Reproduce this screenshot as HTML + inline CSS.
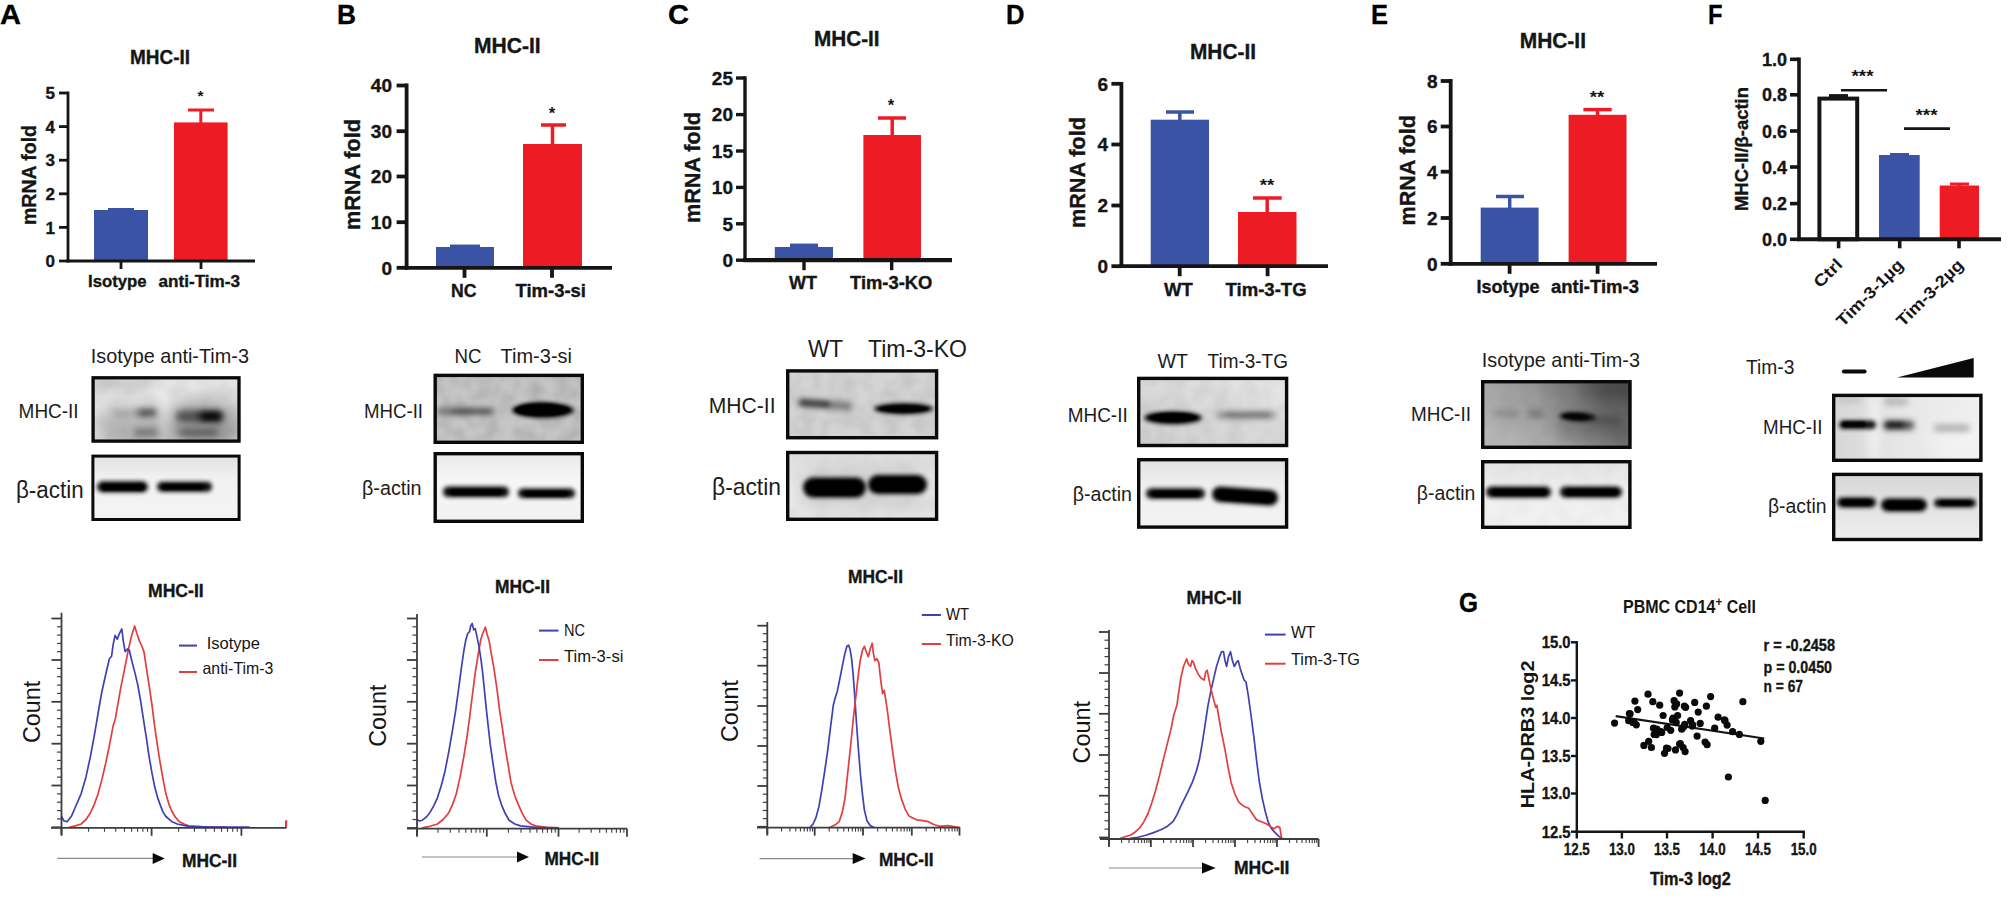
<!DOCTYPE html>
<html><head><meta charset="utf-8"><title>Figure</title>
<style>
html,body{margin:0;padding:0;background:#fff;}
body{width:2008px;height:899px;overflow:hidden;}
svg{display:block;font-family:"Liberation Sans",sans-serif;}
</style></head><body>
<svg width="2008" height="899" viewBox="0 0 2008 899">
<defs>
<filter id="b1" x="-20%" y="-80%" width="140%" height="260%"><feGaussianBlur stdDeviation="1.3"/></filter>
<filter id="b2" x="-20%" y="-80%" width="140%" height="260%"><feGaussianBlur stdDeviation="2"/></filter>
<filter id="b3" x="-30%" y="-100%" width="160%" height="300%"><feGaussianBlur stdDeviation="3.2"/></filter>
<filter id="b5" x="-40%" y="-150%" width="180%" height="400%"><feGaussianBlur stdDeviation="5"/></filter>
<filter id="b9" x="-60%" y="-200%" width="220%" height="500%"><feGaussianBlur stdDeviation="9"/></filter>
<filter id="noise" x="0" y="0" width="100%" height="100%">
  <feTurbulence type="fractalNoise" baseFrequency="0.07" numOctaves="2" seed="4" result="n"/>
  <feColorMatrix in="n" type="matrix" values="0 0 0 0 0  0 0 0 0 0  0 0 0 0 0  1.6 0 0 0 -0.55"/>
  <feGaussianBlur stdDeviation="1.8"/>
</filter>
<linearGradient id="gA1" x1="0" y1="0" x2="1" y2="1"><stop offset="0" stop-color="#dcdcdc"/><stop offset="0.45" stop-color="#e6e6e6"/><stop offset="1" stop-color="#cfcfcf"/></linearGradient>
<linearGradient id="gA2" x1="0" y1="0" x2="0" y2="1"><stop offset="0" stop-color="#e0e0e0"/><stop offset="0.35" stop-color="#f1f1f1"/><stop offset="1" stop-color="#f4f4f4"/></linearGradient>
<linearGradient id="gB2" x1="0" y1="0" x2="0" y2="1"><stop offset="0" stop-color="#e9e9e9"/><stop offset="0.4" stop-color="#f6f6f6"/><stop offset="1" stop-color="#f1f1f1"/></linearGradient>
<linearGradient id="gC2" x1="0" y1="0" x2="0" y2="1"><stop offset="0" stop-color="#dedede"/><stop offset="0.5" stop-color="#ebebeb"/><stop offset="1" stop-color="#e4e4e4"/></linearGradient>
<linearGradient id="gD1" x1="0" y1="1" x2="1" y2="0"><stop offset="0" stop-color="#cfcfcf"/><stop offset="0.6" stop-color="#dcdcdc"/><stop offset="1" stop-color="#e8e8e8"/></linearGradient>
<linearGradient id="gD2" x1="0" y1="0" x2="0" y2="1"><stop offset="0" stop-color="#e2e2e2"/><stop offset="0.4" stop-color="#efefef"/><stop offset="1" stop-color="#f3f3f3"/></linearGradient>
<linearGradient id="gE1" x1="0" y1="0.65" x2="1" y2="0.3"><stop offset="0" stop-color="#b6b6b6"/><stop offset="0.45" stop-color="#999999"/><stop offset="0.75" stop-color="#727272"/><stop offset="1" stop-color="#5e5e5e"/></linearGradient>
<linearGradient id="gE2" x1="0" y1="0" x2="0" y2="1"><stop offset="0" stop-color="#e2e2e2"/><stop offset="0.4" stop-color="#eeeeee"/><stop offset="1" stop-color="#f2f2f2"/></linearGradient>
<linearGradient id="gF1" x1="0" y1="0" x2="1" y2="0"><stop offset="0" stop-color="#d6d6d6"/><stop offset="0.45" stop-color="#e6e6e6"/><stop offset="1" stop-color="#f0f0f0"/></linearGradient>
<linearGradient id="gF2" x1="0" y1="0" x2="0" y2="1"><stop offset="0" stop-color="#d6d6d6"/><stop offset="0.55" stop-color="#e4e4e4"/><stop offset="1" stop-color="#efefef"/></linearGradient>
</defs>

<rect x="0" y="0" width="2008" height="899" fill="#ffffff"/>
<g id="charts">
<text x="0.0" y="24.0" font-size="28" font-weight="bold" textLength="21.0" lengthAdjust="spacingAndGlyphs" fill="#000"  stroke="#000" stroke-width="0.35">A</text>
<text x="337.0" y="24.0" font-size="28" font-weight="bold" textLength="19.0" lengthAdjust="spacingAndGlyphs" fill="#000"  stroke="#000" stroke-width="0.35">B</text>
<text x="668.0" y="24.0" font-size="28" font-weight="bold" textLength="21.0" lengthAdjust="spacingAndGlyphs" fill="#000"  stroke="#000" stroke-width="0.35">C</text>
<text x="1006.0" y="24.0" font-size="28" font-weight="bold" textLength="18.5" lengthAdjust="spacingAndGlyphs" fill="#000"  stroke="#000" stroke-width="0.35">D</text>
<text x="1371.0" y="24.0" font-size="28" font-weight="bold" textLength="17.0" lengthAdjust="spacingAndGlyphs" fill="#000"  stroke="#000" stroke-width="0.35">E</text>
<text x="1708.0" y="24.0" font-size="28" font-weight="bold" textLength="14.5" lengthAdjust="spacingAndGlyphs" fill="#000"  stroke="#000" stroke-width="0.35">F</text>
<text x="1459.0" y="611.5" font-size="28" font-weight="bold" textLength="19.0" lengthAdjust="spacingAndGlyphs" fill="#000"  stroke="#000" stroke-width="0.35">G</text>
<text x="130.0" y="64.0" font-size="20" font-weight="bold" textLength="60.0" lengthAdjust="spacingAndGlyphs" fill="#151515"  stroke="#151515" stroke-width="0.35">MHC-II</text>
<line x1="121.0" y1="209.5" x2="121.0" y2="212.0" stroke="#3a53a4" stroke-width="3" stroke-linecap="butt"/>
<line x1="108.0" y1="209.5" x2="134.0" y2="209.5" stroke="#3a53a4" stroke-width="3" stroke-linecap="butt"/>
<rect x="94.0" y="210.0" width="54.0" height="51.0" fill="#3a53a4" />
<line x1="200.8" y1="110.0" x2="200.8" y2="124.4" stroke="#ed1c24" stroke-width="3" stroke-linecap="butt"/>
<line x1="188.0" y1="110.0" x2="214.0" y2="110.0" stroke="#ed1c24" stroke-width="3" stroke-linecap="butt"/>
<rect x="174.0" y="122.4" width="53.6" height="138.6" fill="#ed1c24" />
<line x1="68.0" y1="91.6" x2="68.0" y2="262.4" stroke="#151515" stroke-width="2.8" stroke-linecap="butt"/>
<line x1="66.6" y1="261.0" x2="255.0" y2="261.0" stroke="#151515" stroke-width="2.8" stroke-linecap="butt"/>
<line x1="59.0" y1="93.0" x2="68.0" y2="93.0" stroke="#151515" stroke-width="2.8" stroke-linecap="butt"/>
<text transform="translate(55.0,99.1) scale(1.0,1)" text-anchor="end" font-size="17" font-weight="bold" fill="#151515" stroke="#151515" stroke-width="0.35">5</text>
<line x1="59.0" y1="126.6" x2="68.0" y2="126.6" stroke="#151515" stroke-width="2.8" stroke-linecap="butt"/>
<text transform="translate(55.0,132.7) scale(1.0,1)" text-anchor="end" font-size="17" font-weight="bold" fill="#151515" stroke="#151515" stroke-width="0.35">4</text>
<line x1="59.0" y1="160.2" x2="68.0" y2="160.2" stroke="#151515" stroke-width="2.8" stroke-linecap="butt"/>
<text transform="translate(55.0,166.3) scale(1.0,1)" text-anchor="end" font-size="17" font-weight="bold" fill="#151515" stroke="#151515" stroke-width="0.35">3</text>
<line x1="59.0" y1="193.8" x2="68.0" y2="193.8" stroke="#151515" stroke-width="2.8" stroke-linecap="butt"/>
<text transform="translate(55.0,199.9) scale(1.0,1)" text-anchor="end" font-size="17" font-weight="bold" fill="#151515" stroke="#151515" stroke-width="0.35">2</text>
<line x1="59.0" y1="227.4" x2="68.0" y2="227.4" stroke="#151515" stroke-width="2.8" stroke-linecap="butt"/>
<text transform="translate(55.0,233.5) scale(1.0,1)" text-anchor="end" font-size="17" font-weight="bold" fill="#151515" stroke="#151515" stroke-width="0.35">1</text>
<line x1="59.0" y1="261.0" x2="68.0" y2="261.0" stroke="#151515" stroke-width="2.8" stroke-linecap="butt"/>
<text transform="translate(55.0,267.1) scale(1.0,1)" text-anchor="end" font-size="17" font-weight="bold" fill="#151515" stroke="#151515" stroke-width="0.35">0</text>
<line x1="121.0" y1="261.0" x2="121.0" y2="269.0" stroke="#151515" stroke-width="2.8" stroke-linecap="butt"/>
<line x1="201.0" y1="261.0" x2="201.0" y2="269.0" stroke="#151515" stroke-width="2.8" stroke-linecap="butt"/>
<text x="197.5" y="101.1" font-size="14" font-weight="bold" fill="#151515" textLength="6.0" lengthAdjust="spacingAndGlyphs">*</text>
<text x="88.0" y="286.5" font-size="16" font-weight="bold" textLength="58.5" lengthAdjust="spacingAndGlyphs" fill="#151515"  stroke="#151515" stroke-width="0.35">Isotype</text>
<text x="158.6" y="286.5" font-size="16" font-weight="bold" textLength="81.4" lengthAdjust="spacingAndGlyphs" fill="#151515"  stroke="#151515" stroke-width="0.35">anti-Tim-3</text>
<text transform="translate(35.5,225.0) rotate(-90)" font-size="20.5" font-weight="bold" textLength="100.0" lengthAdjust="spacingAndGlyphs" fill="#151515" stroke="#151515" stroke-width="0.35">mRNA fold</text>
<text x="474.0" y="53.4" font-size="21.5" font-weight="bold" textLength="66.7" lengthAdjust="spacingAndGlyphs" fill="#151515"  stroke="#151515" stroke-width="0.35">MHC-II</text>
<line x1="465.0" y1="246.3" x2="465.0" y2="249.0" stroke="#3a53a4" stroke-width="3.496" stroke-linecap="butt"/>
<line x1="450.0" y1="246.3" x2="480.0" y2="246.3" stroke="#3a53a4" stroke-width="3.496" stroke-linecap="butt"/>
<rect x="436.0" y="247.0" width="58.0" height="20.8" fill="#3a53a4" />
<line x1="552.5" y1="125.0" x2="552.5" y2="146.0" stroke="#ed1c24" stroke-width="3.496" stroke-linecap="butt"/>
<line x1="541.0" y1="125.0" x2="566.0" y2="125.0" stroke="#ed1c24" stroke-width="3.496" stroke-linecap="butt"/>
<rect x="523.0" y="144.0" width="59.0" height="123.8" fill="#ed1c24" />
<line x1="406.6" y1="83.6" x2="406.6" y2="269.7" stroke="#151515" stroke-width="3.8" stroke-linecap="butt"/>
<line x1="404.7" y1="267.8" x2="612.0" y2="267.8" stroke="#151515" stroke-width="3.8" stroke-linecap="butt"/>
<line x1="396.6" y1="85.5" x2="406.6" y2="85.5" stroke="#151515" stroke-width="3.8" stroke-linecap="butt"/>
<text transform="translate(392.0,92.3) scale(1.0,1)" text-anchor="end" font-size="19" font-weight="bold" fill="#151515" stroke="#151515" stroke-width="0.35">40</text>
<line x1="396.6" y1="131.2" x2="406.6" y2="131.2" stroke="#151515" stroke-width="3.8" stroke-linecap="butt"/>
<text transform="translate(392.0,138.0) scale(1.0,1)" text-anchor="end" font-size="19" font-weight="bold" fill="#151515" stroke="#151515" stroke-width="0.35">30</text>
<line x1="396.6" y1="176.5" x2="406.6" y2="176.5" stroke="#151515" stroke-width="3.8" stroke-linecap="butt"/>
<text transform="translate(392.0,183.3) scale(1.0,1)" text-anchor="end" font-size="19" font-weight="bold" fill="#151515" stroke="#151515" stroke-width="0.35">20</text>
<line x1="396.6" y1="222.2" x2="406.6" y2="222.2" stroke="#151515" stroke-width="3.8" stroke-linecap="butt"/>
<text transform="translate(392.0,229.0) scale(1.0,1)" text-anchor="end" font-size="19" font-weight="bold" fill="#151515" stroke="#151515" stroke-width="0.35">10</text>
<line x1="396.6" y1="267.8" x2="406.6" y2="267.8" stroke="#151515" stroke-width="3.8" stroke-linecap="butt"/>
<text transform="translate(392.0,274.6) scale(1.0,1)" text-anchor="end" font-size="19" font-weight="bold" fill="#151515" stroke="#151515" stroke-width="0.35">0</text>
<line x1="464.5" y1="267.8" x2="464.5" y2="277.8" stroke="#151515" stroke-width="3.8" stroke-linecap="butt"/>
<line x1="552.0" y1="267.8" x2="552.0" y2="277.8" stroke="#151515" stroke-width="3.8" stroke-linecap="butt"/>
<text x="548.8" y="118.5" font-size="16" font-weight="bold" fill="#151515" textLength="6.5" lengthAdjust="spacingAndGlyphs">*</text>
<text x="451.0" y="296.5" font-size="18" font-weight="bold" textLength="25.5" lengthAdjust="spacingAndGlyphs" fill="#151515"  stroke="#151515" stroke-width="0.35">NC</text>
<text x="515.5" y="296.5" font-size="18" font-weight="bold" textLength="70.5" lengthAdjust="spacingAndGlyphs" fill="#151515"  stroke="#151515" stroke-width="0.35">Tim-3-si</text>
<text transform="translate(359.5,230.0) rotate(-90)" font-size="22" font-weight="bold" textLength="111.0" lengthAdjust="spacingAndGlyphs" fill="#151515" stroke="#151515" stroke-width="0.35">mRNA fold</text>
<text x="814.0" y="45.5" font-size="21.5" font-weight="bold" textLength="65.6" lengthAdjust="spacingAndGlyphs" fill="#151515"  stroke="#151515" stroke-width="0.35">MHC-II</text>
<line x1="803.9" y1="245.3" x2="803.9" y2="249.0" stroke="#3a53a4" stroke-width="3.5" stroke-linecap="butt"/>
<line x1="790.0" y1="245.3" x2="818.0" y2="245.3" stroke="#3a53a4" stroke-width="3.5" stroke-linecap="butt"/>
<rect x="774.8" y="247.0" width="58.2" height="13.2" fill="#3a53a4" />
<line x1="892.2" y1="118.0" x2="892.2" y2="137.0" stroke="#ed1c24" stroke-width="3.5" stroke-linecap="butt"/>
<line x1="878.0" y1="118.0" x2="906.0" y2="118.0" stroke="#ed1c24" stroke-width="3.5" stroke-linecap="butt"/>
<rect x="863.4" y="135.0" width="57.6" height="125.2" fill="#ed1c24" />
<line x1="745.0" y1="76.3" x2="745.0" y2="261.9" stroke="#151515" stroke-width="3.4" stroke-linecap="butt"/>
<line x1="743.3" y1="260.2" x2="952.0" y2="260.2" stroke="#151515" stroke-width="4.2" stroke-linecap="butt"/>
<line x1="736.0" y1="78.0" x2="745.0" y2="78.0" stroke="#151515" stroke-width="3.4" stroke-linecap="butt"/>
<text transform="translate(733.0,84.8) scale(1.0,1)" text-anchor="end" font-size="19" font-weight="bold" fill="#151515" stroke="#151515" stroke-width="0.35">25</text>
<line x1="736.0" y1="114.6" x2="745.0" y2="114.6" stroke="#151515" stroke-width="3.4" stroke-linecap="butt"/>
<text transform="translate(733.0,121.4) scale(1.0,1)" text-anchor="end" font-size="19" font-weight="bold" fill="#151515" stroke="#151515" stroke-width="0.35">20</text>
<line x1="736.0" y1="151.0" x2="745.0" y2="151.0" stroke="#151515" stroke-width="3.4" stroke-linecap="butt"/>
<text transform="translate(733.0,157.8) scale(1.0,1)" text-anchor="end" font-size="19" font-weight="bold" fill="#151515" stroke="#151515" stroke-width="0.35">15</text>
<line x1="736.0" y1="187.4" x2="745.0" y2="187.4" stroke="#151515" stroke-width="3.4" stroke-linecap="butt"/>
<text transform="translate(733.0,194.2) scale(1.0,1)" text-anchor="end" font-size="19" font-weight="bold" fill="#151515" stroke="#151515" stroke-width="0.35">10</text>
<line x1="736.0" y1="223.8" x2="745.0" y2="223.8" stroke="#151515" stroke-width="3.4" stroke-linecap="butt"/>
<text transform="translate(733.0,230.6) scale(1.0,1)" text-anchor="end" font-size="19" font-weight="bold" fill="#151515" stroke="#151515" stroke-width="0.35">5</text>
<line x1="736.0" y1="260.2" x2="745.0" y2="260.2" stroke="#151515" stroke-width="3.4" stroke-linecap="butt"/>
<text transform="translate(733.0,267.0) scale(1.0,1)" text-anchor="end" font-size="19" font-weight="bold" fill="#151515" stroke="#151515" stroke-width="0.35">0</text>
<line x1="804.0" y1="260.2" x2="804.0" y2="270.2" stroke="#151515" stroke-width="3.4" stroke-linecap="butt"/>
<line x1="891.7" y1="260.2" x2="891.7" y2="270.2" stroke="#151515" stroke-width="3.4" stroke-linecap="butt"/>
<text x="887.8" y="110.5" font-size="16" font-weight="bold" fill="#151515" textLength="6.5" lengthAdjust="spacingAndGlyphs">*</text>
<text x="789.0" y="289.0" font-size="18" font-weight="bold" textLength="28.0" lengthAdjust="spacingAndGlyphs" fill="#151515"  stroke="#151515" stroke-width="0.35">WT</text>
<text x="850.0" y="289.0" font-size="18" font-weight="bold" textLength="82.4" lengthAdjust="spacingAndGlyphs" fill="#151515"  stroke="#151515" stroke-width="0.35">Tim-3-KO</text>
<text transform="translate(699.5,223.0) rotate(-90)" font-size="22" font-weight="bold" textLength="111.0" lengthAdjust="spacingAndGlyphs" fill="#151515" stroke="#151515" stroke-width="0.35">mRNA fold</text>
<text x="1190.0" y="59.3" font-size="21.5" font-weight="bold" textLength="66.0" lengthAdjust="spacingAndGlyphs" fill="#151515"  stroke="#151515" stroke-width="0.35">MHC-II</text>
<line x1="1179.8" y1="112.0" x2="1179.8" y2="121.7" stroke="#3a53a4" stroke-width="3.496" stroke-linecap="butt"/>
<line x1="1166.0" y1="112.0" x2="1194.0" y2="112.0" stroke="#3a53a4" stroke-width="3.496" stroke-linecap="butt"/>
<rect x="1150.7" y="119.7" width="58.3" height="146.5" fill="#3a53a4" />
<line x1="1267.2" y1="198.0" x2="1267.2" y2="214.0" stroke="#ed1c24" stroke-width="3.496" stroke-linecap="butt"/>
<line x1="1253.0" y1="198.0" x2="1281.7" y2="198.0" stroke="#ed1c24" stroke-width="3.496" stroke-linecap="butt"/>
<rect x="1238.0" y="212.0" width="58.5" height="54.2" fill="#ed1c24" />
<line x1="1121.4" y1="81.9" x2="1121.4" y2="268.1" stroke="#151515" stroke-width="3.8" stroke-linecap="butt"/>
<line x1="1119.5" y1="266.2" x2="1328.0" y2="266.2" stroke="#151515" stroke-width="3.8" stroke-linecap="butt"/>
<line x1="1111.4" y1="83.8" x2="1121.4" y2="83.8" stroke="#151515" stroke-width="3.8" stroke-linecap="butt"/>
<text transform="translate(1108.0,90.6) scale(1.0,1)" text-anchor="end" font-size="19" font-weight="bold" fill="#151515" stroke="#151515" stroke-width="0.35">6</text>
<line x1="1111.4" y1="144.5" x2="1121.4" y2="144.5" stroke="#151515" stroke-width="3.8" stroke-linecap="butt"/>
<text transform="translate(1108.0,151.3) scale(1.0,1)" text-anchor="end" font-size="19" font-weight="bold" fill="#151515" stroke="#151515" stroke-width="0.35">4</text>
<line x1="1111.4" y1="205.5" x2="1121.4" y2="205.5" stroke="#151515" stroke-width="3.8" stroke-linecap="butt"/>
<text transform="translate(1108.0,212.3) scale(1.0,1)" text-anchor="end" font-size="19" font-weight="bold" fill="#151515" stroke="#151515" stroke-width="0.35">2</text>
<line x1="1111.4" y1="266.2" x2="1121.4" y2="266.2" stroke="#151515" stroke-width="3.8" stroke-linecap="butt"/>
<text transform="translate(1108.0,273.0) scale(1.0,1)" text-anchor="end" font-size="19" font-weight="bold" fill="#151515" stroke="#151515" stroke-width="0.35">0</text>
<line x1="1179.7" y1="266.2" x2="1179.7" y2="276.2" stroke="#151515" stroke-width="3.8" stroke-linecap="butt"/>
<line x1="1267.6" y1="266.2" x2="1267.6" y2="276.2" stroke="#151515" stroke-width="3.8" stroke-linecap="butt"/>
<text x="1259.8" y="191.0" font-size="16" font-weight="bold" fill="#151515" textLength="14.5" lengthAdjust="spacingAndGlyphs">**</text>
<text x="1164.0" y="295.5" font-size="18" font-weight="bold" textLength="28.8" lengthAdjust="spacingAndGlyphs" fill="#151515"  stroke="#151515" stroke-width="0.35">WT</text>
<text x="1225.5" y="295.5" font-size="18" font-weight="bold" textLength="81.1" lengthAdjust="spacingAndGlyphs" fill="#151515"  stroke="#151515" stroke-width="0.35">Tim-3-TG</text>
<text transform="translate(1085.0,228.0) rotate(-90)" font-size="22" font-weight="bold" textLength="111.0" lengthAdjust="spacingAndGlyphs" fill="#151515" stroke="#151515" stroke-width="0.35">mRNA fold</text>
<text x="1519.7" y="48.3" font-size="21.5" font-weight="bold" textLength="66.3" lengthAdjust="spacingAndGlyphs" fill="#151515"  stroke="#151515" stroke-width="0.35">MHC-II</text>
<line x1="1509.7" y1="196.5" x2="1509.7" y2="209.6" stroke="#3a53a4" stroke-width="3.496" stroke-linecap="butt"/>
<line x1="1496.0" y1="196.5" x2="1524.0" y2="196.5" stroke="#3a53a4" stroke-width="3.496" stroke-linecap="butt"/>
<rect x="1480.7" y="207.6" width="57.9" height="56.2" fill="#3a53a4" />
<line x1="1597.5" y1="109.6" x2="1597.5" y2="116.8" stroke="#ed1c24" stroke-width="3.496" stroke-linecap="butt"/>
<line x1="1583.4" y1="109.6" x2="1611.7" y2="109.6" stroke="#ed1c24" stroke-width="3.496" stroke-linecap="butt"/>
<rect x="1568.6" y="114.8" width="57.9" height="149.0" fill="#ed1c24" />
<line x1="1450.7" y1="79.1" x2="1450.7" y2="265.7" stroke="#151515" stroke-width="3.8" stroke-linecap="butt"/>
<line x1="1448.8" y1="263.8" x2="1657.0" y2="263.8" stroke="#151515" stroke-width="3.8" stroke-linecap="butt"/>
<line x1="1440.7" y1="81.0" x2="1450.7" y2="81.0" stroke="#151515" stroke-width="3.8" stroke-linecap="butt"/>
<text transform="translate(1437.6,87.8) scale(1.0,1)" text-anchor="end" font-size="19" font-weight="bold" fill="#151515" stroke="#151515" stroke-width="0.35">8</text>
<line x1="1440.7" y1="126.5" x2="1450.7" y2="126.5" stroke="#151515" stroke-width="3.8" stroke-linecap="butt"/>
<text transform="translate(1437.6,133.3) scale(1.0,1)" text-anchor="end" font-size="19" font-weight="bold" fill="#151515" stroke="#151515" stroke-width="0.35">6</text>
<line x1="1440.7" y1="171.7" x2="1450.7" y2="171.7" stroke="#151515" stroke-width="3.8" stroke-linecap="butt"/>
<text transform="translate(1437.6,178.5) scale(1.0,1)" text-anchor="end" font-size="19" font-weight="bold" fill="#151515" stroke="#151515" stroke-width="0.35">4</text>
<line x1="1440.7" y1="218.0" x2="1450.7" y2="218.0" stroke="#151515" stroke-width="3.8" stroke-linecap="butt"/>
<text transform="translate(1437.6,224.8) scale(1.0,1)" text-anchor="end" font-size="19" font-weight="bold" fill="#151515" stroke="#151515" stroke-width="0.35">2</text>
<line x1="1440.7" y1="263.8" x2="1450.7" y2="263.8" stroke="#151515" stroke-width="3.8" stroke-linecap="butt"/>
<text transform="translate(1437.6,270.6) scale(1.0,1)" text-anchor="end" font-size="19" font-weight="bold" fill="#151515" stroke="#151515" stroke-width="0.35">0</text>
<line x1="1509.6" y1="263.8" x2="1509.6" y2="273.8" stroke="#151515" stroke-width="3.8" stroke-linecap="butt"/>
<line x1="1597.6" y1="263.8" x2="1597.6" y2="273.8" stroke="#151515" stroke-width="3.8" stroke-linecap="butt"/>
<text x="1589.8" y="103.0" font-size="16" font-weight="bold" fill="#151515" textLength="14.5" lengthAdjust="spacingAndGlyphs">**</text>
<text x="1476.5" y="293.3" font-size="18" font-weight="bold" textLength="63.1" lengthAdjust="spacingAndGlyphs" fill="#151515"  stroke="#151515" stroke-width="0.35">Isotype</text>
<text x="1551.0" y="293.3" font-size="18" font-weight="bold" textLength="88.0" lengthAdjust="spacingAndGlyphs" fill="#151515"  stroke="#151515" stroke-width="0.35">anti-Tim-3</text>
<text transform="translate(1415.0,225.5) rotate(-90)" font-size="22" font-weight="bold" textLength="110.5" lengthAdjust="spacingAndGlyphs" fill="#151515" stroke="#151515" stroke-width="0.35">mRNA fold</text>
<line x1="1838.3" y1="95.6" x2="1838.3" y2="98.6" stroke="#151515" stroke-width="3" stroke-linecap="butt"/>
<line x1="1829.0" y1="95.6" x2="1848.0" y2="95.6" stroke="#151515" stroke-width="3" stroke-linecap="butt"/>
<rect x="1819.4" y="98.6" width="37.8" height="140.7" fill="#fff" stroke="#151515" stroke-width="4" />
<line x1="1899.3" y1="154.5" x2="1899.3" y2="157.0" stroke="#3a53a4" stroke-width="3" stroke-linecap="butt"/>
<line x1="1890.0" y1="154.5" x2="1909.0" y2="154.5" stroke="#3a53a4" stroke-width="3" stroke-linecap="butt"/>
<rect x="1879.0" y="155.0" width="40.7" height="84.3" fill="#3a53a4" />
<line x1="1959.3" y1="184.0" x2="1959.3" y2="187.5" stroke="#ed1c24" stroke-width="3" stroke-linecap="butt"/>
<line x1="1950.0" y1="184.0" x2="1969.0" y2="184.0" stroke="#ed1c24" stroke-width="3" stroke-linecap="butt"/>
<rect x="1939.7" y="185.5" width="39.3" height="53.8" fill="#ed1c24" />
<line x1="1799.0" y1="57.5" x2="1799.0" y2="241.1" stroke="#151515" stroke-width="3.6" stroke-linecap="butt"/>
<line x1="1797.2" y1="239.3" x2="2001.0" y2="239.3" stroke="#151515" stroke-width="4" stroke-linecap="butt"/>
<line x1="1790.0" y1="59.3" x2="1799.0" y2="59.3" stroke="#151515" stroke-width="3.6" stroke-linecap="butt"/>
<text transform="translate(1787.0,65.8) scale(1.0,1)" text-anchor="end" font-size="18" font-weight="bold" fill="#151515" stroke="#151515" stroke-width="0.35">1.0</text>
<line x1="1790.0" y1="94.8" x2="1799.0" y2="94.8" stroke="#151515" stroke-width="3.6" stroke-linecap="butt"/>
<text transform="translate(1787.0,101.3) scale(1.0,1)" text-anchor="end" font-size="18" font-weight="bold" fill="#151515" stroke="#151515" stroke-width="0.35">0.8</text>
<line x1="1790.0" y1="131.0" x2="1799.0" y2="131.0" stroke="#151515" stroke-width="3.6" stroke-linecap="butt"/>
<text transform="translate(1787.0,137.5) scale(1.0,1)" text-anchor="end" font-size="18" font-weight="bold" fill="#151515" stroke="#151515" stroke-width="0.35">0.6</text>
<line x1="1790.0" y1="167.0" x2="1799.0" y2="167.0" stroke="#151515" stroke-width="3.6" stroke-linecap="butt"/>
<text transform="translate(1787.0,173.5) scale(1.0,1)" text-anchor="end" font-size="18" font-weight="bold" fill="#151515" stroke="#151515" stroke-width="0.35">0.4</text>
<line x1="1790.0" y1="203.6" x2="1799.0" y2="203.6" stroke="#151515" stroke-width="3.6" stroke-linecap="butt"/>
<text transform="translate(1787.0,210.1) scale(1.0,1)" text-anchor="end" font-size="18" font-weight="bold" fill="#151515" stroke="#151515" stroke-width="0.35">0.2</text>
<line x1="1790.0" y1="239.3" x2="1799.0" y2="239.3" stroke="#151515" stroke-width="3.6" stroke-linecap="butt"/>
<text transform="translate(1787.0,245.8) scale(1.0,1)" text-anchor="end" font-size="18" font-weight="bold" fill="#151515" stroke="#151515" stroke-width="0.35">0.0</text>
<line x1="1838.6" y1="239.3" x2="1838.6" y2="248.3" stroke="#151515" stroke-width="3.6" stroke-linecap="butt"/>
<line x1="1899.7" y1="239.3" x2="1899.7" y2="248.3" stroke="#151515" stroke-width="3.6" stroke-linecap="butt"/>
<line x1="1959.0" y1="239.3" x2="1959.0" y2="248.3" stroke="#151515" stroke-width="3.6" stroke-linecap="butt"/>
<line x1="1841.0" y1="90.3" x2="1887.0" y2="90.3" stroke="#151515" stroke-width="2.6" stroke-linecap="butt"/>
<line x1="1904.0" y1="128.6" x2="1950.0" y2="128.6" stroke="#151515" stroke-width="2.6" stroke-linecap="butt"/>
<text x="1851.5" y="81.5" font-size="16" font-weight="bold" fill="#151515" textLength="22.0" lengthAdjust="spacingAndGlyphs">***</text>
<text x="1915.5" y="120.5" font-size="16" font-weight="bold" fill="#151515" textLength="22.0" lengthAdjust="spacingAndGlyphs">***</text>
<text transform="translate(1843.5,265.5) rotate(-45)" text-anchor="end" font-size="16.5" font-weight="bold" textLength="33.0" lengthAdjust="spacingAndGlyphs" fill="#151515">Ctrl</text>
<text transform="translate(1904.5,266.0) rotate(-45)" text-anchor="end" font-size="16.5" font-weight="bold" textLength="87.0" lengthAdjust="spacingAndGlyphs" fill="#151515">Tim-3-1µg</text>
<text transform="translate(1964.5,266.0) rotate(-45)" text-anchor="end" font-size="16.5" font-weight="bold" textLength="87.0" lengthAdjust="spacingAndGlyphs" fill="#151515">Tim-3-2µg</text>
<text transform="translate(1747.5,211.0) rotate(-90)" font-size="18.5" font-weight="bold" textLength="124.0" lengthAdjust="spacingAndGlyphs" fill="#151515" stroke="#151515" stroke-width="0.35">MHC-II/β-actin</text>
</g>
<g id="blots">
<text x="90.8" y="362.7" font-size="21" font-weight="normal" textLength="158.2" lengthAdjust="spacingAndGlyphs" fill="#1c1c1c" >Isotype anti-Tim-3</text>
<text x="18.6" y="418.0" font-size="20" font-weight="normal" textLength="60.0" lengthAdjust="spacingAndGlyphs" fill="#1c1c1c" >MHC-II</text>
<text x="16.0" y="497.8" font-size="23" font-weight="normal" textLength="67.6" lengthAdjust="spacingAndGlyphs" fill="#1c1c1c" >β-actin</text>
<clipPath id="cp1"><rect x="91.4" y="376.2" width="149.2" height="66.6"/></clipPath>
<g clip-path="url(#cp1)">
<rect x="91.4" y="376.2" width="149.2" height="66.6" fill="url(#gA1)" />
<rect x="91.4" y="376.2" width="149.2" height="66.6" fill="#000" filter="url(#noise)" opacity="0.06"/>
<rect x="168.0" y="402.0" width="70.0" height="40.0" rx="20.0" fill="#000" opacity="0.26" filter="url(#b9)"/>
<rect x="100.0" y="407.0" width="65.0" height="34.0" rx="17.0" fill="#000" opacity="0.16" filter="url(#b9)"/>
<rect x="92.0" y="428.0" width="148.0" height="16.0" rx="8.0" fill="#000" opacity="0.14" filter="url(#b9)"/>
<rect x="92.0" y="379.0" width="58.0" height="10.0" rx="5.0" fill="#000" opacity="0.1" filter="url(#b5)"/>
<rect x="112.0" y="409.5" width="44.0" height="7.0" rx="3.5" fill="#000" opacity="0.16" filter="url(#b3)"/>
<rect x="136.0" y="408.0" width="22.0" height="9.0" rx="4.5" fill="#000" opacity="0.36" filter="url(#b3)"/>
<rect x="141.0" y="409.5" width="13.0" height="6.0" rx="3.0" fill="#000" opacity="0.16" filter="url(#b2)"/>
<rect x="176.0" y="410.3" width="48.0" height="12.0" rx="6.0" fill="#000" opacity="0.5" filter="url(#b3)"/>
<rect x="198.0" y="411.8" width="24.0" height="9.0" rx="4.5" fill="#000" opacity="0.7" filter="url(#b3)"/>
<rect x="203.0" y="413.5" width="16.0" height="6.0" rx="3.0" fill="#000" opacity="0.65" filter="url(#b2)"/>
<rect x="134.0" y="428.5" width="24.0" height="8.0" rx="4.0" fill="#000" opacity="0.3" filter="url(#b3)"/>
<rect x="178.0" y="428.5" width="40.0" height="8.0" rx="4.0" fill="#000" opacity="0.34" filter="url(#b3)"/>
<rect x="160.0" y="373.0" width="11.0" height="70.0" rx="35.0" fill="#fff" opacity="0.22" filter="url(#b5)"/>
</g>
<rect x="93.1" y="377.8" width="145.9" height="63.3" fill="none" stroke="#0a0a0a" stroke-width="3.3"/>
<clipPath id="cp2"><rect x="91.4" y="454.6" width="149.2" height="66.4"/></clipPath>
<g clip-path="url(#cp2)">
<rect x="91.4" y="454.6" width="149.2" height="66.4" fill="url(#gA2)" />
<rect x="97.0" y="481.3" width="51.0" height="11.0" rx="5.5" fill="#000" opacity="0.96" filter="url(#b2)"/>
<rect x="102.0" y="484.1" width="42.0" height="6.5" rx="3.2" fill="#000" opacity="1.0" filter="url(#b1)"/>
<rect x="157.0" y="481.8" width="55.0" height="10.0" rx="5.0" fill="#000" opacity="0.96" filter="url(#b2)"/>
<rect x="162.0" y="484.2" width="42.0" height="5.5" rx="2.8" fill="#000" opacity="1.0" filter="url(#b1)"/>
</g>
<rect x="92.9" y="456.1" width="146.2" height="63.4" fill="none" stroke="#0a0a0a" stroke-width="3.0"/>
<text x="454.5" y="363.0" font-size="21" font-weight="normal" textLength="27.0" lengthAdjust="spacingAndGlyphs" fill="#1c1c1c" >NC</text>
<text x="500.5" y="363.0" font-size="21" font-weight="normal" textLength="71.5" lengthAdjust="spacingAndGlyphs" fill="#1c1c1c" >Tim-3-si</text>
<text x="364.0" y="418.0" font-size="20" font-weight="normal" textLength="59.0" lengthAdjust="spacingAndGlyphs" fill="#1c1c1c" >MHC-II</text>
<text x="362.0" y="495.4" font-size="20.5" font-weight="normal" textLength="59.6" lengthAdjust="spacingAndGlyphs" fill="#1c1c1c" >β-actin</text>
<clipPath id="cp3"><rect x="433.5" y="373.7" width="150.5" height="70.3"/></clipPath>
<g clip-path="url(#cp3)">
<rect x="433.5" y="373.7" width="150.5" height="70.3" fill="#c6c6c6" />
<rect x="433.5" y="373.7" width="150.5" height="70.3" fill="#000" filter="url(#noise)" opacity="0.14"/>
<rect x="436.0" y="407.8" width="58.0" height="7.0" rx="3.5" fill="#000" opacity="0.42" filter="url(#b3)"/>
<rect x="450.0" y="409.0" width="40.0" height="5.0" rx="2.5" fill="#000" opacity="0.25" filter="url(#b2)"/>
<ellipse cx="543" cy="410.2" rx="31" ry="7.6" fill="#000" opacity="1.0" filter="url(#b2)"/>
<ellipse cx="542" cy="410" rx="27" ry="5.6" fill="#000" opacity="1.0" filter="url(#b1)"/>
<ellipse cx="540" cy="408.5" rx="20" ry="4.5" fill="#000" opacity="0.9" filter="url(#b2)"/>
</g>
<rect x="435.2" y="375.4" width="147.1" height="66.9" fill="none" stroke="#0a0a0a" stroke-width="3.4"/>
<clipPath id="cp4"><rect x="433.5" y="452.0" width="150.5" height="71.0"/></clipPath>
<g clip-path="url(#cp4)">
<rect x="433.5" y="452.0" width="150.5" height="71.0" fill="url(#gB2)" />
<rect x="443.0" y="486.6" width="66.0" height="10.5" rx="5.2" fill="#000" opacity="0.97" filter="url(#b2)"/>
<rect x="450.0" y="489.3" width="52.0" height="6.0" rx="3.0" fill="#000" opacity="1.0" filter="url(#b1)"/>
<rect x="518.0" y="488.6" width="57.0" height="9.5" rx="4.8" fill="#000" opacity="0.97" filter="url(#b2)"/>
<rect x="524.0" y="491.1" width="44.0" height="5.5" rx="2.8" fill="#000" opacity="1.0" filter="url(#b1)"/>
</g>
<rect x="435.2" y="453.7" width="147.1" height="67.6" fill="none" stroke="#0a0a0a" stroke-width="3.4"/>
<text x="808.0" y="356.6" font-size="24" font-weight="normal" textLength="35.0" lengthAdjust="spacingAndGlyphs" fill="#1c1c1c" >WT</text>
<text x="868.0" y="356.6" font-size="24" font-weight="normal" textLength="99.0" lengthAdjust="spacingAndGlyphs" fill="#1c1c1c" >Tim-3-KO</text>
<text x="708.8" y="413.0" font-size="22" font-weight="normal" textLength="66.7" lengthAdjust="spacingAndGlyphs" fill="#1c1c1c" >MHC-II</text>
<text x="712.0" y="495.4" font-size="24" font-weight="normal" textLength="69.0" lengthAdjust="spacingAndGlyphs" fill="#1c1c1c" >β-actin</text>
<clipPath id="cp5"><rect x="786.0" y="369.2" width="152.3" height="70.2"/></clipPath>
<g clip-path="url(#cp5)">
<rect x="786.0" y="369.2" width="152.3" height="70.2" fill="#d4d4d4" />
<rect x="786.0" y="369.2" width="152.3" height="70.2" fill="#000" filter="url(#noise)" opacity="0.1"/>
<rect x="797.0" y="400.5" width="55.0" height="8.0" rx="4.0" fill="#000" opacity="0.45" filter="url(#b3)" transform="rotate(4 824.5 404.5)"/>
<rect x="800.0" y="400.5" width="30.0" height="6.0" rx="3.0" fill="#000" opacity="0.45" filter="url(#b2)" transform="rotate(4 815.0 403.5)"/>
<ellipse cx="903.5" cy="408.6" rx="30" ry="5.6" fill="#000" opacity="0.95" filter="url(#b2)"/>
<ellipse cx="903.5" cy="408.8" rx="25" ry="3.6" fill="#000" opacity="0.9" filter="url(#b1)"/>
</g>
<rect x="787.7" y="370.9" width="148.9" height="66.8" fill="none" stroke="#0a0a0a" stroke-width="3.4"/>
<clipPath id="cp6"><rect x="786.0" y="450.8" width="152.3" height="70.2"/></clipPath>
<g clip-path="url(#cp6)">
<rect x="786.0" y="450.8" width="152.3" height="70.2" fill="url(#gC2)" />
<rect x="786.0" y="450.8" width="152.3" height="70.2" fill="#000" filter="url(#noise)" opacity="0.04"/>
<rect x="803.0" y="477.6" width="63.0" height="20.0" rx="10.0" fill="#000" opacity="1.0" filter="url(#b2)"/>
<rect x="810.0" y="481.0" width="50.0" height="14.0" rx="7.0" fill="#000" opacity="1.0" filter="url(#b1)"/>
<rect x="868.0" y="475.1" width="59.0" height="19.0" rx="9.5" fill="#000" opacity="1.0" filter="url(#b2)"/>
<rect x="874.0" y="478.1" width="47.0" height="13.0" rx="6.5" fill="#000" opacity="1.0" filter="url(#b1)"/>
<rect x="800.0" y="467.0" width="130.0" height="40.0" rx="20.0" fill="#000" opacity="0.1" filter="url(#b9)"/>
</g>
<rect x="787.7" y="452.5" width="148.9" height="66.8" fill="none" stroke="#0a0a0a" stroke-width="3.4"/>
<text x="1157.5" y="368.4" font-size="21" font-weight="normal" textLength="30.5" lengthAdjust="spacingAndGlyphs" fill="#1c1c1c" >WT</text>
<text x="1207.6" y="368.4" font-size="21" font-weight="normal" textLength="80.3" lengthAdjust="spacingAndGlyphs" fill="#1c1c1c" >Tim-3-TG</text>
<text x="1067.7" y="421.6" font-size="20" font-weight="normal" textLength="60.0" lengthAdjust="spacingAndGlyphs" fill="#1c1c1c" >MHC-II</text>
<text x="1072.8" y="501.0" font-size="20.5" font-weight="normal" textLength="59.2" lengthAdjust="spacingAndGlyphs" fill="#1c1c1c" >β-actin</text>
<clipPath id="cp7"><rect x="1137.0" y="376.7" width="151.3" height="70.5"/></clipPath>
<g clip-path="url(#cp7)">
<rect x="1137.0" y="376.7" width="151.3" height="70.5" fill="url(#gD1)" />
<rect x="1137.0" y="376.7" width="151.3" height="70.5" fill="#000" filter="url(#noise)" opacity="0.07"/>
<ellipse cx="1173" cy="417.8" rx="29" ry="6.4" fill="#000" opacity="1.0" filter="url(#b2)"/>
<ellipse cx="1173" cy="417.4" rx="24" ry="4.4" fill="#000" opacity="1.0" filter="url(#b1)"/>
<rect x="1216.0" y="411.5" width="59.0" height="7.0" rx="3.5" fill="#000" opacity="0.38" filter="url(#b3)"/>
<rect x="1225.0" y="413.0" width="45.0" height="4.0" rx="2.0" fill="#000" opacity="0.2" filter="url(#b2)"/>
</g>
<rect x="1138.7" y="378.4" width="147.9" height="67.1" fill="none" stroke="#0a0a0a" stroke-width="3.4"/>
<clipPath id="cp8"><rect x="1137.0" y="458.0" width="151.3" height="70.8"/></clipPath>
<g clip-path="url(#cp8)">
<rect x="1137.0" y="458.0" width="151.3" height="70.8" fill="url(#gD2)" />
<rect x="1146.0" y="488.2" width="59.0" height="10.5" rx="5.2" fill="#000" opacity="0.95" filter="url(#b2)"/>
<rect x="1152.0" y="491.0" width="47.0" height="6.0" rx="3.0" fill="#000" opacity="1.0" filter="url(#b1)"/>
<rect x="1212.0" y="488.2" width="66.0" height="15.5" rx="7.8" fill="#000" opacity="1.0" filter="url(#b2)" transform="rotate(4 1245.0 496.0)"/>
<rect x="1219.0" y="491.8" width="53.0" height="9.5" rx="4.8" fill="#000" opacity="1.0" filter="url(#b1)" transform="rotate(4 1245.5 496.5)"/>
</g>
<rect x="1138.7" y="459.7" width="147.9" height="67.4" fill="none" stroke="#0a0a0a" stroke-width="3.4"/>
<text x="1481.8" y="367.0" font-size="21" font-weight="normal" textLength="158.2" lengthAdjust="spacingAndGlyphs" fill="#1c1c1c" >Isotype anti-Tim-3</text>
<text x="1411.0" y="421.0" font-size="20" font-weight="normal" textLength="59.9" lengthAdjust="spacingAndGlyphs" fill="#1c1c1c" >MHC-II</text>
<text x="1416.8" y="499.8" font-size="20.5" font-weight="normal" textLength="58.6" lengthAdjust="spacingAndGlyphs" fill="#1c1c1c" >β-actin</text>
<clipPath id="cp9"><rect x="1481.0" y="380.0" width="150.6" height="69.0"/></clipPath>
<g clip-path="url(#cp9)">
<rect x="1481.0" y="380.0" width="150.6" height="69.0" fill="url(#gE1)" />
<rect x="1481.0" y="380.0" width="150.6" height="69.0" fill="#000" filter="url(#noise)" opacity="0.05"/>
<rect x="1585.0" y="377.0" width="55.0" height="22.0" rx="11.0" fill="#000" opacity="0.28" filter="url(#b9)"/>
<rect x="1500.0" y="430.0" width="60.0" height="20.0" rx="10.0" fill="#fff" opacity="0.1" filter="url(#b9)"/>
<rect x="1556.0" y="418.0" width="70.0" height="16.0" rx="8.0" fill="#000" opacity="0.22" filter="url(#b9)"/>
<rect x="1494.0" y="410.7" width="25.0" height="5.0" rx="2.5" fill="#000" opacity="0.22" filter="url(#b3)"/>
<rect x="1527.0" y="411.1" width="17.0" height="5.5" rx="2.8" fill="#000" opacity="0.26" filter="url(#b3)"/>
<ellipse cx="1577.5" cy="416.8" rx="18.5" ry="4.6" fill="#000" opacity="0.9" filter="url(#b2)" transform="rotate(3 1577.5 416.8)"/>
<ellipse cx="1576" cy="416.6" rx="13" ry="3" fill="#000" opacity="0.8" filter="url(#b1)" transform="rotate(3 1576 416.6)"/>
<rect x="1592.0" y="417.5" width="28.0" height="5.0" rx="2.5" fill="#000" opacity="0.25" filter="url(#b3)"/>
</g>
<rect x="1482.7" y="381.7" width="147.2" height="65.6" fill="none" stroke="#0a0a0a" stroke-width="3.4"/>
<clipPath id="cp10"><rect x="1481.0" y="460.0" width="150.6" height="69.0"/></clipPath>
<g clip-path="url(#cp10)">
<rect x="1481.0" y="460.0" width="150.6" height="69.0" fill="url(#gE2)" />
<rect x="1481.0" y="460.0" width="150.6" height="69.0" fill="#000" filter="url(#noise)" opacity="0.03"/>
<rect x="1486.0" y="486.5" width="65.0" height="11.0" rx="5.5" fill="#000" opacity="0.97" filter="url(#b2)"/>
<rect x="1492.0" y="489.1" width="54.0" height="6.5" rx="3.2" fill="#000" opacity="1.0" filter="url(#b1)"/>
<rect x="1560.0" y="486.5" width="62.0" height="11.0" rx="5.5" fill="#000" opacity="0.97" filter="url(#b2)"/>
<rect x="1566.0" y="489.1" width="51.0" height="6.5" rx="3.2" fill="#000" opacity="1.0" filter="url(#b1)"/>
</g>
<rect x="1482.7" y="461.7" width="147.2" height="65.6" fill="none" stroke="#0a0a0a" stroke-width="3.4"/>
<text x="1746.0" y="373.8" font-size="21" font-weight="normal" textLength="48.4" lengthAdjust="spacingAndGlyphs" fill="#1c1c1c" >Tim-3</text>
<line x1="1844.0" y1="371.5" x2="1864.5" y2="371.5" stroke="#0a0a0a" stroke-width="4.2" stroke-linecap="round"/>
<polygon points="1897,377.6 1973.7,377.6 1973.7,358" fill="#0a0a0a"/>
<text x="1763.0" y="433.6" font-size="20" font-weight="normal" textLength="59.4" lengthAdjust="spacingAndGlyphs" fill="#1c1c1c" >MHC-II</text>
<text x="1767.9" y="513.0" font-size="20.5" font-weight="normal" textLength="58.6" lengthAdjust="spacingAndGlyphs" fill="#1c1c1c" >β-actin</text>
<clipPath id="cp11"><rect x="1832.0" y="393.7" width="150.6" height="68.3"/></clipPath>
<g clip-path="url(#cp11)">
<rect x="1832.0" y="393.7" width="150.6" height="68.3" fill="url(#gF1)" />
<rect x="1868.0" y="388.0" width="12.0" height="80.0" rx="40.0" fill="#fff" opacity="0.5" filter="url(#b5)"/>
<rect x="1928.0" y="420.0" width="52.0" height="40.0" rx="20.0" fill="#fff" opacity="0.3" filter="url(#b9)"/>
<rect x="1839.0" y="420.4" width="37.0" height="8.5" rx="4.2" fill="#000" opacity="0.92" filter="url(#b2)"/>
<rect x="1842.0" y="421.6" width="24.0" height="5.5" rx="2.8" fill="#000" opacity="0.9" filter="url(#b1)"/>
<rect x="1883.0" y="421.1" width="31.0" height="8.5" rx="4.2" fill="#000" opacity="0.75" filter="url(#b3)"/>
<rect x="1886.0" y="421.8" width="18.0" height="6.0" rx="3.0" fill="#000" opacity="0.6" filter="url(#b2)"/>
<rect x="1934.0" y="424.8" width="36.0" height="6.5" rx="3.2" fill="#000" opacity="0.3" filter="url(#b3)"/>
<rect x="1838.0" y="397.5" width="24.0" height="5.0" rx="2.5" fill="#000" opacity="0.13" filter="url(#b3)"/>
<rect x="1884.0" y="398.0" width="24.0" height="7.0" rx="3.5" fill="#000" opacity="0.22" filter="url(#b3)"/>
</g>
<rect x="1833.7" y="395.4" width="147.2" height="64.9" fill="none" stroke="#0a0a0a" stroke-width="3.4"/>
<clipPath id="cp12"><rect x="1832.0" y="472.7" width="150.6" height="68.5"/></clipPath>
<g clip-path="url(#cp12)">
<rect x="1832.0" y="472.7" width="150.6" height="68.5" fill="url(#gF2)" />
<rect x="1837.0" y="497.4" width="39.0" height="10.0" rx="5.0" fill="#000" opacity="0.97" filter="url(#b2)"/>
<rect x="1842.0" y="499.6" width="29.0" height="6.0" rx="3.0" fill="#000" opacity="1.0" filter="url(#b1)"/>
<rect x="1881.0" y="498.5" width="46.0" height="13.0" rx="6.5" fill="#000" opacity="1.0" filter="url(#b2)"/>
<rect x="1887.0" y="501.3" width="34.0" height="8.0" rx="4.0" fill="#000" opacity="1.0" filter="url(#b1)"/>
<rect x="1934.0" y="498.8" width="42.0" height="8.5" rx="4.2" fill="#000" opacity="0.97" filter="url(#b2)"/>
<rect x="1940.0" y="500.5" width="31.0" height="5.0" rx="2.5" fill="#000" opacity="1.0" filter="url(#b1)"/>
</g>
<rect x="1833.7" y="474.4" width="147.2" height="65.1" fill="none" stroke="#0a0a0a" stroke-width="3.4"/>
</g>
<g id="flow">
<text x="148.0" y="597.0" font-size="18" font-weight="bold" textLength="55.7" lengthAdjust="spacingAndGlyphs" fill="#151515"  stroke="#151515" stroke-width="0.35">MHC-II</text>
<line x1="286.0" y1="827.8" x2="286.0" y2="821.0" stroke="#3d3d3d" stroke-width="1.6" stroke-linecap="butt"/>
<text transform="translate(40.0,743.0) rotate(-90)" font-size="24" font-weight="normal" textLength="62.3" lengthAdjust="spacingAndGlyphs" fill="#151515">Count</text>
<line x1="57.3" y1="858.4" x2="154.7" y2="858.4" stroke="#8a8a8a" stroke-width="1.1" stroke-linecap="butt"/>
<polygon points="152.7,852.9 164.8,858.4 152.7,863.9" fill="#0a0a0a"/>
<text x="182.0" y="867.4" font-size="18" font-weight="bold" textLength="55.0" lengthAdjust="spacingAndGlyphs" fill="#151515"  stroke="#151515" stroke-width="0.35">MHC-II</text>
<line x1="179.0" y1="645.6" x2="197.0" y2="645.6" stroke="#4040b4" stroke-width="2" stroke-linecap="butt"/>
<text x="206.7" y="648.6" font-size="16.5" font-weight="normal" textLength="53.3" lengthAdjust="spacingAndGlyphs" fill="#151515" >Isotype</text>
<line x1="179.0" y1="672.0" x2="197.0" y2="672.0" stroke="#e23d41" stroke-width="2" stroke-linecap="butt"/>
<text x="202.5" y="674.0" font-size="16.5" font-weight="normal" textLength="70.9" lengthAdjust="spacingAndGlyphs" fill="#151515" >anti-Tim-3</text>
<polyline points="69.8,827.0 75.4,825.9 81.1,824.0 86.0,819.5 90.5,812.7 94.3,804.4 98.1,793.8 101.8,779.9 105.6,763.7 109.4,745.6 113.1,725.9 115.4,718.4 117.7,705.2 120.7,688.2 124.5,669.4 128.2,650.5 131.2,637.3 134.6,626.0 136.9,633.5 139.5,641.1 141.8,646.0 144.1,652.4 146.3,667.5 149.0,684.5 152.0,705.2 154.6,725.9 157.6,746.7 160.3,763.7 163.3,780.6 165.9,793.8 169.0,804.4 171.6,810.8 175.4,817.2 179.1,821.4 184.0,824.0 188.6,825.9 207.4,827.0 226.3,827.0" fill="none" stroke="#e23d41" stroke-width="1.7" stroke-linejoin="round" stroke-linecap="round"/>
<polyline points="61.5,816.5 64.1,821.0 67.1,821.7 71.7,815.7 75.4,807.0 81.1,793.8 86.0,776.9 90.5,756.1 95.0,731.6 98.8,709.0 101.8,692.0 105.6,675.0 109.4,658.8 111.6,656.2 113.1,644.9 115.0,635.4 117.3,639.2 119.2,633.9 121.8,629.0 123.3,641.1 125.2,651.6 127.5,649.0 129.4,650.5 132.0,661.8 135.0,673.1 137.7,684.5 140.7,701.4 143.3,718.4 146.3,737.3 149.0,756.1 152.0,773.1 154.6,786.3 157.6,797.6 160.3,805.1 162.9,811.9 165.9,816.5 171.6,821.4 177.3,824.0 188.6,826.3 211.2,827.0 248.9,827.0" fill="none" stroke="#4040b4" stroke-width="1.7" stroke-linejoin="round" stroke-linecap="round"/>
<line x1="61.5" y1="612.7" x2="61.5" y2="834.8" stroke="#3d3d3d" stroke-width="1.8" stroke-linecap="butt"/>
<line x1="51.0" y1="827.8" x2="286.6" y2="827.8" stroke="#3d3d3d" stroke-width="1.8" stroke-linecap="butt"/>
<line x1="51.5" y1="618.5" x2="61.5" y2="618.5" stroke="#3d3d3d" stroke-width="1.8" stroke-linecap="butt"/>
<line x1="57.0" y1="626.8" x2="61.5" y2="626.8" stroke="#3d3d3d" stroke-width="1.2" stroke-linecap="butt"/>
<line x1="57.0" y1="635.1" x2="61.5" y2="635.1" stroke="#3d3d3d" stroke-width="1.2" stroke-linecap="butt"/>
<line x1="57.0" y1="643.4" x2="61.5" y2="643.4" stroke="#3d3d3d" stroke-width="1.2" stroke-linecap="butt"/>
<line x1="57.0" y1="651.7" x2="61.5" y2="651.7" stroke="#3d3d3d" stroke-width="1.2" stroke-linecap="butt"/>
<line x1="51.5" y1="660.0" x2="61.5" y2="660.0" stroke="#3d3d3d" stroke-width="1.8" stroke-linecap="butt"/>
<line x1="57.0" y1="668.4" x2="61.5" y2="668.4" stroke="#3d3d3d" stroke-width="1.2" stroke-linecap="butt"/>
<line x1="57.0" y1="676.7" x2="61.5" y2="676.7" stroke="#3d3d3d" stroke-width="1.2" stroke-linecap="butt"/>
<line x1="57.0" y1="685.1" x2="61.5" y2="685.1" stroke="#3d3d3d" stroke-width="1.2" stroke-linecap="butt"/>
<line x1="57.0" y1="693.4" x2="61.5" y2="693.4" stroke="#3d3d3d" stroke-width="1.2" stroke-linecap="butt"/>
<line x1="51.5" y1="701.8" x2="61.5" y2="701.8" stroke="#3d3d3d" stroke-width="1.8" stroke-linecap="butt"/>
<line x1="57.0" y1="710.2" x2="61.5" y2="710.2" stroke="#3d3d3d" stroke-width="1.2" stroke-linecap="butt"/>
<line x1="57.0" y1="718.6" x2="61.5" y2="718.6" stroke="#3d3d3d" stroke-width="1.2" stroke-linecap="butt"/>
<line x1="57.0" y1="726.9" x2="61.5" y2="726.9" stroke="#3d3d3d" stroke-width="1.2" stroke-linecap="butt"/>
<line x1="57.0" y1="735.3" x2="61.5" y2="735.3" stroke="#3d3d3d" stroke-width="1.2" stroke-linecap="butt"/>
<line x1="51.5" y1="743.7" x2="61.5" y2="743.7" stroke="#3d3d3d" stroke-width="1.8" stroke-linecap="butt"/>
<line x1="57.0" y1="752.1" x2="61.5" y2="752.1" stroke="#3d3d3d" stroke-width="1.2" stroke-linecap="butt"/>
<line x1="57.0" y1="760.4" x2="61.5" y2="760.4" stroke="#3d3d3d" stroke-width="1.2" stroke-linecap="butt"/>
<line x1="57.0" y1="768.8" x2="61.5" y2="768.8" stroke="#3d3d3d" stroke-width="1.2" stroke-linecap="butt"/>
<line x1="57.0" y1="777.1" x2="61.5" y2="777.1" stroke="#3d3d3d" stroke-width="1.2" stroke-linecap="butt"/>
<line x1="51.5" y1="785.5" x2="61.5" y2="785.5" stroke="#3d3d3d" stroke-width="1.8" stroke-linecap="butt"/>
<line x1="57.0" y1="793.9" x2="61.5" y2="793.9" stroke="#3d3d3d" stroke-width="1.2" stroke-linecap="butt"/>
<line x1="57.0" y1="802.2" x2="61.5" y2="802.2" stroke="#3d3d3d" stroke-width="1.2" stroke-linecap="butt"/>
<line x1="57.0" y1="810.6" x2="61.5" y2="810.6" stroke="#3d3d3d" stroke-width="1.2" stroke-linecap="butt"/>
<line x1="57.0" y1="818.9" x2="61.5" y2="818.9" stroke="#3d3d3d" stroke-width="1.2" stroke-linecap="butt"/>
<line x1="51.5" y1="827.3" x2="61.5" y2="827.3" stroke="#3d3d3d" stroke-width="1.8" stroke-linecap="butt"/>
<line x1="61.5" y1="827.8" x2="61.5" y2="835.8" stroke="#3d3d3d" stroke-width="1.8" stroke-linecap="butt"/>
<line x1="88.6" y1="827.8" x2="88.6" y2="831.8" stroke="#3d3d3d" stroke-width="1.1" stroke-linecap="butt"/>
<line x1="104.5" y1="827.8" x2="104.5" y2="831.8" stroke="#3d3d3d" stroke-width="1.1" stroke-linecap="butt"/>
<line x1="115.7" y1="827.8" x2="115.7" y2="831.8" stroke="#3d3d3d" stroke-width="1.1" stroke-linecap="butt"/>
<line x1="124.5" y1="827.8" x2="124.5" y2="831.8" stroke="#3d3d3d" stroke-width="1.1" stroke-linecap="butt"/>
<line x1="131.6" y1="827.8" x2="131.6" y2="831.8" stroke="#3d3d3d" stroke-width="1.1" stroke-linecap="butt"/>
<line x1="137.6" y1="827.8" x2="137.6" y2="831.8" stroke="#3d3d3d" stroke-width="1.1" stroke-linecap="butt"/>
<line x1="142.9" y1="827.8" x2="142.9" y2="831.8" stroke="#3d3d3d" stroke-width="1.1" stroke-linecap="butt"/>
<line x1="147.5" y1="827.8" x2="147.5" y2="831.8" stroke="#3d3d3d" stroke-width="1.1" stroke-linecap="butt"/>
<line x1="151.6" y1="827.8" x2="151.6" y2="835.8" stroke="#3d3d3d" stroke-width="1.8" stroke-linecap="butt"/>
<line x1="178.6" y1="827.8" x2="178.6" y2="831.8" stroke="#3d3d3d" stroke-width="1.1" stroke-linecap="butt"/>
<line x1="194.4" y1="827.8" x2="194.4" y2="831.8" stroke="#3d3d3d" stroke-width="1.1" stroke-linecap="butt"/>
<line x1="205.7" y1="827.8" x2="205.7" y2="831.8" stroke="#3d3d3d" stroke-width="1.1" stroke-linecap="butt"/>
<line x1="214.4" y1="827.8" x2="214.4" y2="831.8" stroke="#3d3d3d" stroke-width="1.1" stroke-linecap="butt"/>
<line x1="221.5" y1="827.8" x2="221.5" y2="831.8" stroke="#3d3d3d" stroke-width="1.1" stroke-linecap="butt"/>
<line x1="227.5" y1="827.8" x2="227.5" y2="831.8" stroke="#3d3d3d" stroke-width="1.1" stroke-linecap="butt"/>
<line x1="232.7" y1="827.8" x2="232.7" y2="831.8" stroke="#3d3d3d" stroke-width="1.1" stroke-linecap="butt"/>
<line x1="237.3" y1="827.8" x2="237.3" y2="831.8" stroke="#3d3d3d" stroke-width="1.1" stroke-linecap="butt"/>
<line x1="241.4" y1="827.8" x2="241.4" y2="835.8" stroke="#3d3d3d" stroke-width="1.8" stroke-linecap="butt"/>
<line x1="286.4" y1="820.0" x2="286.4" y2="827.0" stroke="#e23d41" stroke-width="1.6" stroke-linecap="butt"/>
<text x="495.0" y="593.0" font-size="18" font-weight="bold" textLength="55.0" lengthAdjust="spacingAndGlyphs" fill="#151515"  stroke="#151515" stroke-width="0.35">MHC-II</text>
<text transform="translate(385.5,746.8) rotate(-90)" font-size="24" font-weight="normal" textLength="62.3" lengthAdjust="spacingAndGlyphs" fill="#151515">Count</text>
<line x1="421.9" y1="857.0" x2="519.0" y2="857.0" stroke="#8a8a8a" stroke-width="1.1" stroke-linecap="butt"/>
<polygon points="517.0,851.5 529.0,857.0 517.0,862.5" fill="#0a0a0a"/>
<text x="544.5" y="864.5" font-size="18" font-weight="bold" textLength="54.5" lengthAdjust="spacingAndGlyphs" fill="#151515"  stroke="#151515" stroke-width="0.35">MHC-II</text>
<line x1="539.0" y1="630.6" x2="558.5" y2="630.6" stroke="#4040b4" stroke-width="2" stroke-linecap="butt"/>
<text x="564.0" y="635.5" font-size="16.5" font-weight="normal" textLength="21.0" lengthAdjust="spacingAndGlyphs" fill="#151515" >NC</text>
<line x1="539.0" y1="660.0" x2="558.5" y2="660.0" stroke="#e23d41" stroke-width="2" stroke-linecap="butt"/>
<text x="564.0" y="661.9" font-size="16.5" font-weight="normal" textLength="59.4" lengthAdjust="spacingAndGlyphs" fill="#151515" >Tim-3-si</text>
<polyline points="422.4,827.8 429.9,826.3 437.5,824.0 443.1,819.5 448.8,812.7 452.6,804.4 456.3,793.8 460.1,776.9 463.9,756.1 466.9,737.3 469.5,718.4 472.2,696.5 475.2,673.1 478.2,654.3 480.9,639.2 482.7,633.5 484.3,629.8 485.4,627.1 486.9,633.5 489.2,641.1 491.4,654.3 494.1,669.4 497.1,690.1 499.7,710.9 502.7,730.5 505.4,748.6 508.4,766.7 511.0,782.5 514.8,795.7 518.6,805.1 522.3,813.4 526.1,820.2 531.0,824.0 535.5,825.9 546.9,827.4 558.2,827.8" fill="none" stroke="#e23d41" stroke-width="1.7" stroke-linejoin="round" stroke-linecap="round"/>
<polyline points="416.7,819.5 419.4,821.0 422.4,820.2 426.2,817.2 429.9,812.7 433.7,805.9 437.5,797.6 441.3,785.5 445.0,771.2 448.8,751.6 452.6,729.7 455.6,710.9 458.2,692.0 460.9,671.3 463.9,650.5 465.8,640.0 467.7,633.5 469.5,631.7 470.7,626.0 472.2,623.4 473.7,629.8 475.2,628.6 476.7,635.4 479.0,646.7 480.9,658.8 482.7,673.1 484.6,692.0 486.5,710.9 488.4,727.8 490.3,744.8 493.3,765.5 495.9,782.5 498.6,795.7 501.6,805.1 505.4,813.8 509.1,820.2 514.8,824.0 520.5,825.9 535.5,827.4 558.2,827.8" fill="none" stroke="#4040b4" stroke-width="1.7" stroke-linejoin="round" stroke-linecap="round"/>
<line x1="417.0" y1="614.0" x2="417.0" y2="835.7" stroke="#3d3d3d" stroke-width="1.8" stroke-linecap="butt"/>
<line x1="407.0" y1="828.7" x2="627.0" y2="828.7" stroke="#3d3d3d" stroke-width="1.8" stroke-linecap="butt"/>
<line x1="407.0" y1="618.5" x2="417.0" y2="618.5" stroke="#3d3d3d" stroke-width="1.8" stroke-linecap="butt"/>
<line x1="412.5" y1="626.8" x2="417.0" y2="626.8" stroke="#3d3d3d" stroke-width="1.2" stroke-linecap="butt"/>
<line x1="412.5" y1="635.1" x2="417.0" y2="635.1" stroke="#3d3d3d" stroke-width="1.2" stroke-linecap="butt"/>
<line x1="412.5" y1="643.4" x2="417.0" y2="643.4" stroke="#3d3d3d" stroke-width="1.2" stroke-linecap="butt"/>
<line x1="412.5" y1="651.7" x2="417.0" y2="651.7" stroke="#3d3d3d" stroke-width="1.2" stroke-linecap="butt"/>
<line x1="407.0" y1="660.0" x2="417.0" y2="660.0" stroke="#3d3d3d" stroke-width="1.8" stroke-linecap="butt"/>
<line x1="412.5" y1="668.4" x2="417.0" y2="668.4" stroke="#3d3d3d" stroke-width="1.2" stroke-linecap="butt"/>
<line x1="412.5" y1="676.7" x2="417.0" y2="676.7" stroke="#3d3d3d" stroke-width="1.2" stroke-linecap="butt"/>
<line x1="412.5" y1="685.1" x2="417.0" y2="685.1" stroke="#3d3d3d" stroke-width="1.2" stroke-linecap="butt"/>
<line x1="412.5" y1="693.4" x2="417.0" y2="693.4" stroke="#3d3d3d" stroke-width="1.2" stroke-linecap="butt"/>
<line x1="407.0" y1="701.8" x2="417.0" y2="701.8" stroke="#3d3d3d" stroke-width="1.8" stroke-linecap="butt"/>
<line x1="412.5" y1="710.2" x2="417.0" y2="710.2" stroke="#3d3d3d" stroke-width="1.2" stroke-linecap="butt"/>
<line x1="412.5" y1="718.6" x2="417.0" y2="718.6" stroke="#3d3d3d" stroke-width="1.2" stroke-linecap="butt"/>
<line x1="412.5" y1="726.9" x2="417.0" y2="726.9" stroke="#3d3d3d" stroke-width="1.2" stroke-linecap="butt"/>
<line x1="412.5" y1="735.3" x2="417.0" y2="735.3" stroke="#3d3d3d" stroke-width="1.2" stroke-linecap="butt"/>
<line x1="407.0" y1="743.7" x2="417.0" y2="743.7" stroke="#3d3d3d" stroke-width="1.8" stroke-linecap="butt"/>
<line x1="412.5" y1="752.1" x2="417.0" y2="752.1" stroke="#3d3d3d" stroke-width="1.2" stroke-linecap="butt"/>
<line x1="412.5" y1="760.4" x2="417.0" y2="760.4" stroke="#3d3d3d" stroke-width="1.2" stroke-linecap="butt"/>
<line x1="412.5" y1="768.8" x2="417.0" y2="768.8" stroke="#3d3d3d" stroke-width="1.2" stroke-linecap="butt"/>
<line x1="412.5" y1="777.1" x2="417.0" y2="777.1" stroke="#3d3d3d" stroke-width="1.2" stroke-linecap="butt"/>
<line x1="407.0" y1="785.5" x2="417.0" y2="785.5" stroke="#3d3d3d" stroke-width="1.8" stroke-linecap="butt"/>
<line x1="412.5" y1="794.0" x2="417.0" y2="794.0" stroke="#3d3d3d" stroke-width="1.2" stroke-linecap="butt"/>
<line x1="412.5" y1="802.5" x2="417.0" y2="802.5" stroke="#3d3d3d" stroke-width="1.2" stroke-linecap="butt"/>
<line x1="412.5" y1="811.0" x2="417.0" y2="811.0" stroke="#3d3d3d" stroke-width="1.2" stroke-linecap="butt"/>
<line x1="412.5" y1="819.5" x2="417.0" y2="819.5" stroke="#3d3d3d" stroke-width="1.2" stroke-linecap="butt"/>
<line x1="407.0" y1="828.0" x2="417.0" y2="828.0" stroke="#3d3d3d" stroke-width="1.8" stroke-linecap="butt"/>
<line x1="417.0" y1="828.7" x2="417.0" y2="836.7" stroke="#3d3d3d" stroke-width="1.8" stroke-linecap="butt"/>
<line x1="438.0" y1="828.7" x2="438.0" y2="832.7" stroke="#3d3d3d" stroke-width="1.1" stroke-linecap="butt"/>
<line x1="450.3" y1="828.7" x2="450.3" y2="832.7" stroke="#3d3d3d" stroke-width="1.1" stroke-linecap="butt"/>
<line x1="459.0" y1="828.7" x2="459.0" y2="832.7" stroke="#3d3d3d" stroke-width="1.1" stroke-linecap="butt"/>
<line x1="465.8" y1="828.7" x2="465.8" y2="832.7" stroke="#3d3d3d" stroke-width="1.1" stroke-linecap="butt"/>
<line x1="471.3" y1="828.7" x2="471.3" y2="832.7" stroke="#3d3d3d" stroke-width="1.1" stroke-linecap="butt"/>
<line x1="476.0" y1="828.7" x2="476.0" y2="832.7" stroke="#3d3d3d" stroke-width="1.1" stroke-linecap="butt"/>
<line x1="480.0" y1="828.7" x2="480.0" y2="832.7" stroke="#3d3d3d" stroke-width="1.1" stroke-linecap="butt"/>
<line x1="483.6" y1="828.7" x2="483.6" y2="832.7" stroke="#3d3d3d" stroke-width="1.1" stroke-linecap="butt"/>
<line x1="486.8" y1="828.7" x2="486.8" y2="836.7" stroke="#3d3d3d" stroke-width="1.8" stroke-linecap="butt"/>
<line x1="508.4" y1="828.7" x2="508.4" y2="832.7" stroke="#3d3d3d" stroke-width="1.1" stroke-linecap="butt"/>
<line x1="521.0" y1="828.7" x2="521.0" y2="832.7" stroke="#3d3d3d" stroke-width="1.1" stroke-linecap="butt"/>
<line x1="530.0" y1="828.7" x2="530.0" y2="832.7" stroke="#3d3d3d" stroke-width="1.1" stroke-linecap="butt"/>
<line x1="536.9" y1="828.7" x2="536.9" y2="832.7" stroke="#3d3d3d" stroke-width="1.1" stroke-linecap="butt"/>
<line x1="542.6" y1="828.7" x2="542.6" y2="832.7" stroke="#3d3d3d" stroke-width="1.1" stroke-linecap="butt"/>
<line x1="547.4" y1="828.7" x2="547.4" y2="832.7" stroke="#3d3d3d" stroke-width="1.1" stroke-linecap="butt"/>
<line x1="551.6" y1="828.7" x2="551.6" y2="832.7" stroke="#3d3d3d" stroke-width="1.1" stroke-linecap="butt"/>
<line x1="555.2" y1="828.7" x2="555.2" y2="832.7" stroke="#3d3d3d" stroke-width="1.1" stroke-linecap="butt"/>
<line x1="558.5" y1="828.7" x2="558.5" y2="836.7" stroke="#3d3d3d" stroke-width="1.8" stroke-linecap="butt"/>
<line x1="579.1" y1="828.7" x2="579.1" y2="832.7" stroke="#3d3d3d" stroke-width="1.1" stroke-linecap="butt"/>
<line x1="591.2" y1="828.7" x2="591.2" y2="832.7" stroke="#3d3d3d" stroke-width="1.1" stroke-linecap="butt"/>
<line x1="599.7" y1="828.7" x2="599.7" y2="832.7" stroke="#3d3d3d" stroke-width="1.1" stroke-linecap="butt"/>
<line x1="606.4" y1="828.7" x2="606.4" y2="832.7" stroke="#3d3d3d" stroke-width="1.1" stroke-linecap="butt"/>
<line x1="611.8" y1="828.7" x2="611.8" y2="832.7" stroke="#3d3d3d" stroke-width="1.1" stroke-linecap="butt"/>
<line x1="616.4" y1="828.7" x2="616.4" y2="832.7" stroke="#3d3d3d" stroke-width="1.1" stroke-linecap="butt"/>
<line x1="620.4" y1="828.7" x2="620.4" y2="832.7" stroke="#3d3d3d" stroke-width="1.1" stroke-linecap="butt"/>
<line x1="623.9" y1="828.7" x2="623.9" y2="832.7" stroke="#3d3d3d" stroke-width="1.1" stroke-linecap="butt"/>
<line x1="627.0" y1="828.7" x2="627.0" y2="836.7" stroke="#3d3d3d" stroke-width="1.8" stroke-linecap="butt"/>
<text x="848.0" y="583.0" font-size="18" font-weight="bold" textLength="55.0" lengthAdjust="spacingAndGlyphs" fill="#151515"  stroke="#151515" stroke-width="0.35">MHC-II</text>
<text transform="translate(738.0,742.0) rotate(-90)" font-size="24" font-weight="normal" textLength="62.0" lengthAdjust="spacingAndGlyphs" fill="#151515">Count</text>
<line x1="759.6" y1="858.6" x2="854.7" y2="858.6" stroke="#8a8a8a" stroke-width="1.1" stroke-linecap="butt"/>
<polygon points="852.7,853.1 865.6,858.6 852.7,864.1" fill="#0a0a0a"/>
<text x="879.0" y="866.4" font-size="18" font-weight="bold" textLength="54.5" lengthAdjust="spacingAndGlyphs" fill="#151515"  stroke="#151515" stroke-width="0.35">MHC-II</text>
<line x1="921.8" y1="615.0" x2="940.9" y2="615.0" stroke="#4040b4" stroke-width="2" stroke-linecap="butt"/>
<text x="946.0" y="620.0" font-size="16.5" font-weight="normal" textLength="23.0" lengthAdjust="spacingAndGlyphs" fill="#151515" >WT</text>
<line x1="921.8" y1="644.0" x2="940.9" y2="644.0" stroke="#e23d41" stroke-width="2" stroke-linecap="butt"/>
<text x="946.0" y="646.0" font-size="16.5" font-weight="normal" textLength="67.9" lengthAdjust="spacingAndGlyphs" fill="#151515" >Tim-3-KO</text>
<polyline points="810.0,827.6 813.2,823.7 815.9,817.9 819.0,806.2 821.7,790.7 824.4,773.2 827.5,751.9 830.6,726.6 833.3,705.3 835.3,697.5 837.2,691.7 839.2,682.0 841.1,672.3 843.0,662.6 845.0,652.9 846.9,646.3 848.5,645.1 850.0,649.0 851.6,658.7 853.1,674.2 854.7,695.6 856.6,724.7 858.6,751.9 860.5,775.2 862.5,794.6 864.4,810.1 867.1,821.0 870.2,825.6 874.1,827.6" fill="none" stroke="#4040b4" stroke-width="1.7" stroke-linejoin="round" stroke-linecap="round"/>
<polyline points="829.5,827.6 835.3,824.8 839.2,821.7 842.3,812.0 845.0,798.4 847.7,773.2 850.8,744.1 853.5,716.9 856.6,689.8 858.6,672.3 860.5,658.7 862.5,650.2 864.4,646.3 866.3,651.7 868.3,656.8 870.2,649.0 872.2,643.2 873.3,652.9 874.9,660.6 876.8,658.7 878.8,662.6 880.7,680.0 882.6,693.6 884.2,690.5 885.7,699.5 887.7,713.0 889.6,728.6 892.7,751.9 895.5,771.3 898.2,786.8 901.3,798.4 905.2,809.3 909.0,815.9 912.9,817.9 916.8,819.8 922.6,820.6 928.4,821.7 934.3,824.8 940.1,826.4 947.9,825.6 959.5,827.6" fill="none" stroke="#e23d41" stroke-width="1.7" stroke-linejoin="round" stroke-linecap="round"/>
<line x1="767.3" y1="622.0" x2="767.3" y2="834.6" stroke="#3d3d3d" stroke-width="1.8" stroke-linecap="butt"/>
<line x1="757.0" y1="827.6" x2="959.5" y2="827.6" stroke="#3d3d3d" stroke-width="1.8" stroke-linecap="butt"/>
<line x1="757.3" y1="625.7" x2="767.3" y2="625.7" stroke="#3d3d3d" stroke-width="1.8" stroke-linecap="butt"/>
<line x1="762.8" y1="633.7" x2="767.3" y2="633.7" stroke="#3d3d3d" stroke-width="1.2" stroke-linecap="butt"/>
<line x1="762.8" y1="641.7" x2="767.3" y2="641.7" stroke="#3d3d3d" stroke-width="1.2" stroke-linecap="butt"/>
<line x1="762.8" y1="649.7" x2="767.3" y2="649.7" stroke="#3d3d3d" stroke-width="1.2" stroke-linecap="butt"/>
<line x1="762.8" y1="657.7" x2="767.3" y2="657.7" stroke="#3d3d3d" stroke-width="1.2" stroke-linecap="butt"/>
<line x1="757.3" y1="665.7" x2="767.3" y2="665.7" stroke="#3d3d3d" stroke-width="1.8" stroke-linecap="butt"/>
<line x1="762.8" y1="673.8" x2="767.3" y2="673.8" stroke="#3d3d3d" stroke-width="1.2" stroke-linecap="butt"/>
<line x1="762.8" y1="681.8" x2="767.3" y2="681.8" stroke="#3d3d3d" stroke-width="1.2" stroke-linecap="butt"/>
<line x1="762.8" y1="689.9" x2="767.3" y2="689.9" stroke="#3d3d3d" stroke-width="1.2" stroke-linecap="butt"/>
<line x1="762.8" y1="697.9" x2="767.3" y2="697.9" stroke="#3d3d3d" stroke-width="1.2" stroke-linecap="butt"/>
<line x1="757.3" y1="706.0" x2="767.3" y2="706.0" stroke="#3d3d3d" stroke-width="1.8" stroke-linecap="butt"/>
<line x1="762.8" y1="714.0" x2="767.3" y2="714.0" stroke="#3d3d3d" stroke-width="1.2" stroke-linecap="butt"/>
<line x1="762.8" y1="722.0" x2="767.3" y2="722.0" stroke="#3d3d3d" stroke-width="1.2" stroke-linecap="butt"/>
<line x1="762.8" y1="730.0" x2="767.3" y2="730.0" stroke="#3d3d3d" stroke-width="1.2" stroke-linecap="butt"/>
<line x1="762.8" y1="738.0" x2="767.3" y2="738.0" stroke="#3d3d3d" stroke-width="1.2" stroke-linecap="butt"/>
<line x1="757.3" y1="746.0" x2="767.3" y2="746.0" stroke="#3d3d3d" stroke-width="1.8" stroke-linecap="butt"/>
<line x1="762.8" y1="754.0" x2="767.3" y2="754.0" stroke="#3d3d3d" stroke-width="1.2" stroke-linecap="butt"/>
<line x1="762.8" y1="762.0" x2="767.3" y2="762.0" stroke="#3d3d3d" stroke-width="1.2" stroke-linecap="butt"/>
<line x1="762.8" y1="770.0" x2="767.3" y2="770.0" stroke="#3d3d3d" stroke-width="1.2" stroke-linecap="butt"/>
<line x1="762.8" y1="778.0" x2="767.3" y2="778.0" stroke="#3d3d3d" stroke-width="1.2" stroke-linecap="butt"/>
<line x1="757.3" y1="786.0" x2="767.3" y2="786.0" stroke="#3d3d3d" stroke-width="1.8" stroke-linecap="butt"/>
<line x1="762.8" y1="794.2" x2="767.3" y2="794.2" stroke="#3d3d3d" stroke-width="1.2" stroke-linecap="butt"/>
<line x1="762.8" y1="802.3" x2="767.3" y2="802.3" stroke="#3d3d3d" stroke-width="1.2" stroke-linecap="butt"/>
<line x1="762.8" y1="810.5" x2="767.3" y2="810.5" stroke="#3d3d3d" stroke-width="1.2" stroke-linecap="butt"/>
<line x1="762.8" y1="818.6" x2="767.3" y2="818.6" stroke="#3d3d3d" stroke-width="1.2" stroke-linecap="butt"/>
<line x1="757.3" y1="826.8" x2="767.3" y2="826.8" stroke="#3d3d3d" stroke-width="1.8" stroke-linecap="butt"/>
<line x1="767.3" y1="827.6" x2="767.3" y2="835.6" stroke="#3d3d3d" stroke-width="1.8" stroke-linecap="butt"/>
<line x1="781.6" y1="827.6" x2="781.6" y2="831.6" stroke="#3d3d3d" stroke-width="1.1" stroke-linecap="butt"/>
<line x1="789.9" y1="827.6" x2="789.9" y2="831.6" stroke="#3d3d3d" stroke-width="1.1" stroke-linecap="butt"/>
<line x1="795.8" y1="827.6" x2="795.8" y2="831.6" stroke="#3d3d3d" stroke-width="1.1" stroke-linecap="butt"/>
<line x1="800.4" y1="827.6" x2="800.4" y2="831.6" stroke="#3d3d3d" stroke-width="1.1" stroke-linecap="butt"/>
<line x1="804.2" y1="827.6" x2="804.2" y2="831.6" stroke="#3d3d3d" stroke-width="1.1" stroke-linecap="butt"/>
<line x1="807.4" y1="827.6" x2="807.4" y2="831.6" stroke="#3d3d3d" stroke-width="1.1" stroke-linecap="butt"/>
<line x1="810.1" y1="827.6" x2="810.1" y2="831.6" stroke="#3d3d3d" stroke-width="1.1" stroke-linecap="butt"/>
<line x1="812.5" y1="827.6" x2="812.5" y2="831.6" stroke="#3d3d3d" stroke-width="1.1" stroke-linecap="butt"/>
<line x1="814.7" y1="827.6" x2="814.7" y2="835.6" stroke="#3d3d3d" stroke-width="1.8" stroke-linecap="butt"/>
<line x1="829.2" y1="827.6" x2="829.2" y2="831.6" stroke="#3d3d3d" stroke-width="1.1" stroke-linecap="butt"/>
<line x1="837.7" y1="827.6" x2="837.7" y2="831.6" stroke="#3d3d3d" stroke-width="1.1" stroke-linecap="butt"/>
<line x1="843.8" y1="827.6" x2="843.8" y2="831.6" stroke="#3d3d3d" stroke-width="1.1" stroke-linecap="butt"/>
<line x1="848.5" y1="827.6" x2="848.5" y2="831.6" stroke="#3d3d3d" stroke-width="1.1" stroke-linecap="butt"/>
<line x1="852.3" y1="827.6" x2="852.3" y2="831.6" stroke="#3d3d3d" stroke-width="1.1" stroke-linecap="butt"/>
<line x1="855.5" y1="827.6" x2="855.5" y2="831.6" stroke="#3d3d3d" stroke-width="1.1" stroke-linecap="butt"/>
<line x1="858.3" y1="827.6" x2="858.3" y2="831.6" stroke="#3d3d3d" stroke-width="1.1" stroke-linecap="butt"/>
<line x1="860.8" y1="827.6" x2="860.8" y2="831.6" stroke="#3d3d3d" stroke-width="1.1" stroke-linecap="butt"/>
<line x1="863.0" y1="827.6" x2="863.0" y2="835.6" stroke="#3d3d3d" stroke-width="1.8" stroke-linecap="butt"/>
<line x1="877.7" y1="827.6" x2="877.7" y2="831.6" stroke="#3d3d3d" stroke-width="1.1" stroke-linecap="butt"/>
<line x1="886.3" y1="827.6" x2="886.3" y2="831.6" stroke="#3d3d3d" stroke-width="1.1" stroke-linecap="butt"/>
<line x1="892.4" y1="827.6" x2="892.4" y2="831.6" stroke="#3d3d3d" stroke-width="1.1" stroke-linecap="butt"/>
<line x1="897.1" y1="827.6" x2="897.1" y2="831.6" stroke="#3d3d3d" stroke-width="1.1" stroke-linecap="butt"/>
<line x1="901.0" y1="827.6" x2="901.0" y2="831.6" stroke="#3d3d3d" stroke-width="1.1" stroke-linecap="butt"/>
<line x1="904.2" y1="827.6" x2="904.2" y2="831.6" stroke="#3d3d3d" stroke-width="1.1" stroke-linecap="butt"/>
<line x1="907.1" y1="827.6" x2="907.1" y2="831.6" stroke="#3d3d3d" stroke-width="1.1" stroke-linecap="butt"/>
<line x1="909.6" y1="827.6" x2="909.6" y2="831.6" stroke="#3d3d3d" stroke-width="1.1" stroke-linecap="butt"/>
<line x1="911.8" y1="827.6" x2="911.8" y2="835.6" stroke="#3d3d3d" stroke-width="1.8" stroke-linecap="butt"/>
<line x1="926.2" y1="827.6" x2="926.2" y2="831.6" stroke="#3d3d3d" stroke-width="1.1" stroke-linecap="butt"/>
<line x1="934.6" y1="827.6" x2="934.6" y2="831.6" stroke="#3d3d3d" stroke-width="1.1" stroke-linecap="butt"/>
<line x1="940.5" y1="827.6" x2="940.5" y2="831.6" stroke="#3d3d3d" stroke-width="1.1" stroke-linecap="butt"/>
<line x1="945.1" y1="827.6" x2="945.1" y2="831.6" stroke="#3d3d3d" stroke-width="1.1" stroke-linecap="butt"/>
<line x1="948.9" y1="827.6" x2="948.9" y2="831.6" stroke="#3d3d3d" stroke-width="1.1" stroke-linecap="butt"/>
<line x1="952.1" y1="827.6" x2="952.1" y2="831.6" stroke="#3d3d3d" stroke-width="1.1" stroke-linecap="butt"/>
<line x1="954.9" y1="827.6" x2="954.9" y2="831.6" stroke="#3d3d3d" stroke-width="1.1" stroke-linecap="butt"/>
<line x1="957.3" y1="827.6" x2="957.3" y2="831.6" stroke="#3d3d3d" stroke-width="1.1" stroke-linecap="butt"/>
<line x1="959.5" y1="827.6" x2="959.5" y2="835.6" stroke="#3d3d3d" stroke-width="1.8" stroke-linecap="butt"/>
<text x="1186.6" y="604.0" font-size="18" font-weight="bold" textLength="55.1" lengthAdjust="spacingAndGlyphs" fill="#151515"  stroke="#151515" stroke-width="0.35">MHC-II</text>
<text transform="translate(1090.0,763.5) rotate(-90)" font-size="24" font-weight="normal" textLength="62.5" lengthAdjust="spacingAndGlyphs" fill="#151515">Count</text>
<line x1="1109.0" y1="868.0" x2="1204.0" y2="868.0" stroke="#8a8a8a" stroke-width="1.1" stroke-linecap="butt"/>
<polygon points="1202.0,862.5 1215.7,868.0 1202.0,873.5" fill="#0a0a0a"/>
<text x="1234.0" y="874.0" font-size="18" font-weight="bold" textLength="55.5" lengthAdjust="spacingAndGlyphs" fill="#151515"  stroke="#151515" stroke-width="0.35">MHC-II</text>
<line x1="1265.0" y1="634.6" x2="1285.6" y2="634.6" stroke="#4040b4" stroke-width="2" stroke-linecap="butt"/>
<text x="1291.0" y="638.0" font-size="16.5" font-weight="normal" textLength="24.5" lengthAdjust="spacingAndGlyphs" fill="#151515" >WT</text>
<line x1="1265.0" y1="663.7" x2="1285.6" y2="663.7" stroke="#e23d41" stroke-width="2" stroke-linecap="butt"/>
<text x="1291.0" y="664.5" font-size="16.5" font-weight="normal" textLength="69.0" lengthAdjust="spacingAndGlyphs" fill="#151515" >Tim-3-TG</text>
<polyline points="1130.3,838.4 1138.1,837.3 1145.8,835.3 1153.6,832.6 1161.4,829.5 1167.2,826.4 1173.0,821.7 1176.9,814.8 1180.8,806.2 1184.7,798.4 1188.5,790.7 1192.4,782.1 1196.3,771.3 1199.4,759.6 1202.1,744.1 1204.8,726.6 1208.0,705.3 1211.1,689.8 1213.8,678.1 1216.5,666.5 1219.6,656.8 1221.5,651.7 1223.5,651.7 1225.0,660.6 1226.6,666.5 1228.5,656.8 1230.5,651.7 1232.4,660.6 1234.3,666.5 1236.3,662.6 1238.2,660.6 1240.2,668.4 1242.1,674.2 1244.1,680.0 1246.0,682.0 1248.3,695.6 1250.7,713.0 1253.8,736.3 1256.5,759.6 1259.2,781.0 1262.3,798.4 1265.4,812.0 1268.1,821.7 1270.8,827.6 1273.9,831.4 1277.8,835.3 1281.7,838.4" fill="none" stroke="#4040b4" stroke-width="1.7" stroke-linejoin="round" stroke-linecap="round"/>
<polyline points="1120.6,838.4 1125.7,836.5 1130.3,835.3 1135.0,832.2 1140.0,827.6 1143.9,821.7 1147.8,814.0 1151.7,803.1 1155.5,790.7 1159.4,775.9 1163.3,759.6 1167.2,744.1 1171.1,728.6 1173.8,715.0 1176.9,705.3 1178.8,691.7 1180.8,678.1 1183.5,666.5 1186.6,658.7 1188.5,664.5 1190.5,666.5 1192.0,660.6 1193.2,661.8 1195.5,668.4 1198.2,674.2 1201.0,678.1 1204.1,680.0 1205.6,672.3 1207.2,670.3 1208.7,678.1 1209.9,683.9 1212.6,695.6 1215.7,707.2 1216.9,705.3 1218.4,715.0 1221.5,732.5 1223.5,742.2 1225.4,751.9 1228.1,767.4 1231.2,782.9 1235.1,794.6 1239.0,802.3 1243.7,806.2 1248.7,808.2 1252.6,814.0 1256.5,819.8 1261.5,821.7 1266.2,823.7 1270.1,826.4 1273.9,828.7 1277.0,826.4 1279.8,827.6 1281.7,838.4" fill="none" stroke="#e23d41" stroke-width="1.7" stroke-linejoin="round" stroke-linecap="round"/>
<line x1="1109.0" y1="630.0" x2="1109.0" y2="846.0" stroke="#3d3d3d" stroke-width="1.8" stroke-linecap="butt"/>
<line x1="1100.0" y1="839.0" x2="1318.6" y2="839.0" stroke="#3d3d3d" stroke-width="1.8" stroke-linecap="butt"/>
<line x1="1099.0" y1="632.0" x2="1109.0" y2="632.0" stroke="#3d3d3d" stroke-width="1.8" stroke-linecap="butt"/>
<line x1="1104.5" y1="640.2" x2="1109.0" y2="640.2" stroke="#3d3d3d" stroke-width="1.2" stroke-linecap="butt"/>
<line x1="1104.5" y1="648.4" x2="1109.0" y2="648.4" stroke="#3d3d3d" stroke-width="1.2" stroke-linecap="butt"/>
<line x1="1104.5" y1="656.6" x2="1109.0" y2="656.6" stroke="#3d3d3d" stroke-width="1.2" stroke-linecap="butt"/>
<line x1="1104.5" y1="664.8" x2="1109.0" y2="664.8" stroke="#3d3d3d" stroke-width="1.2" stroke-linecap="butt"/>
<line x1="1099.0" y1="673.0" x2="1109.0" y2="673.0" stroke="#3d3d3d" stroke-width="1.8" stroke-linecap="butt"/>
<line x1="1104.5" y1="681.2" x2="1109.0" y2="681.2" stroke="#3d3d3d" stroke-width="1.2" stroke-linecap="butt"/>
<line x1="1104.5" y1="689.3" x2="1109.0" y2="689.3" stroke="#3d3d3d" stroke-width="1.2" stroke-linecap="butt"/>
<line x1="1104.5" y1="697.5" x2="1109.0" y2="697.5" stroke="#3d3d3d" stroke-width="1.2" stroke-linecap="butt"/>
<line x1="1104.5" y1="705.6" x2="1109.0" y2="705.6" stroke="#3d3d3d" stroke-width="1.2" stroke-linecap="butt"/>
<line x1="1099.0" y1="713.8" x2="1109.0" y2="713.8" stroke="#3d3d3d" stroke-width="1.8" stroke-linecap="butt"/>
<line x1="1104.5" y1="722.0" x2="1109.0" y2="722.0" stroke="#3d3d3d" stroke-width="1.2" stroke-linecap="butt"/>
<line x1="1104.5" y1="730.3" x2="1109.0" y2="730.3" stroke="#3d3d3d" stroke-width="1.2" stroke-linecap="butt"/>
<line x1="1104.5" y1="738.5" x2="1109.0" y2="738.5" stroke="#3d3d3d" stroke-width="1.2" stroke-linecap="butt"/>
<line x1="1104.5" y1="746.8" x2="1109.0" y2="746.8" stroke="#3d3d3d" stroke-width="1.2" stroke-linecap="butt"/>
<line x1="1099.0" y1="755.0" x2="1109.0" y2="755.0" stroke="#3d3d3d" stroke-width="1.8" stroke-linecap="butt"/>
<line x1="1104.5" y1="763.1" x2="1109.0" y2="763.1" stroke="#3d3d3d" stroke-width="1.2" stroke-linecap="butt"/>
<line x1="1104.5" y1="771.3" x2="1109.0" y2="771.3" stroke="#3d3d3d" stroke-width="1.2" stroke-linecap="butt"/>
<line x1="1104.5" y1="779.4" x2="1109.0" y2="779.4" stroke="#3d3d3d" stroke-width="1.2" stroke-linecap="butt"/>
<line x1="1104.5" y1="787.6" x2="1109.0" y2="787.6" stroke="#3d3d3d" stroke-width="1.2" stroke-linecap="butt"/>
<line x1="1099.0" y1="795.7" x2="1109.0" y2="795.7" stroke="#3d3d3d" stroke-width="1.8" stroke-linecap="butt"/>
<line x1="1104.5" y1="804.1" x2="1109.0" y2="804.1" stroke="#3d3d3d" stroke-width="1.2" stroke-linecap="butt"/>
<line x1="1104.5" y1="812.4" x2="1109.0" y2="812.4" stroke="#3d3d3d" stroke-width="1.2" stroke-linecap="butt"/>
<line x1="1104.5" y1="820.8" x2="1109.0" y2="820.8" stroke="#3d3d3d" stroke-width="1.2" stroke-linecap="butt"/>
<line x1="1104.5" y1="829.1" x2="1109.0" y2="829.1" stroke="#3d3d3d" stroke-width="1.2" stroke-linecap="butt"/>
<line x1="1099.0" y1="837.5" x2="1109.0" y2="837.5" stroke="#3d3d3d" stroke-width="1.8" stroke-linecap="butt"/>
<line x1="1109.0" y1="839.0" x2="1109.0" y2="847.0" stroke="#3d3d3d" stroke-width="1.8" stroke-linecap="butt"/>
<line x1="1121.6" y1="839.0" x2="1121.6" y2="843.0" stroke="#3d3d3d" stroke-width="1.1" stroke-linecap="butt"/>
<line x1="1129.0" y1="839.0" x2="1129.0" y2="843.0" stroke="#3d3d3d" stroke-width="1.1" stroke-linecap="butt"/>
<line x1="1134.2" y1="839.0" x2="1134.2" y2="843.0" stroke="#3d3d3d" stroke-width="1.1" stroke-linecap="butt"/>
<line x1="1138.3" y1="839.0" x2="1138.3" y2="843.0" stroke="#3d3d3d" stroke-width="1.1" stroke-linecap="butt"/>
<line x1="1141.6" y1="839.0" x2="1141.6" y2="843.0" stroke="#3d3d3d" stroke-width="1.1" stroke-linecap="butt"/>
<line x1="1144.4" y1="839.0" x2="1144.4" y2="843.0" stroke="#3d3d3d" stroke-width="1.1" stroke-linecap="butt"/>
<line x1="1146.8" y1="839.0" x2="1146.8" y2="843.0" stroke="#3d3d3d" stroke-width="1.1" stroke-linecap="butt"/>
<line x1="1149.0" y1="839.0" x2="1149.0" y2="843.0" stroke="#3d3d3d" stroke-width="1.1" stroke-linecap="butt"/>
<line x1="1150.9" y1="839.0" x2="1150.9" y2="847.0" stroke="#3d3d3d" stroke-width="1.8" stroke-linecap="butt"/>
<line x1="1163.6" y1="839.0" x2="1163.6" y2="843.0" stroke="#3d3d3d" stroke-width="1.1" stroke-linecap="butt"/>
<line x1="1171.0" y1="839.0" x2="1171.0" y2="843.0" stroke="#3d3d3d" stroke-width="1.1" stroke-linecap="butt"/>
<line x1="1176.2" y1="839.0" x2="1176.2" y2="843.0" stroke="#3d3d3d" stroke-width="1.1" stroke-linecap="butt"/>
<line x1="1180.3" y1="839.0" x2="1180.3" y2="843.0" stroke="#3d3d3d" stroke-width="1.1" stroke-linecap="butt"/>
<line x1="1183.7" y1="839.0" x2="1183.7" y2="843.0" stroke="#3d3d3d" stroke-width="1.1" stroke-linecap="butt"/>
<line x1="1186.5" y1="839.0" x2="1186.5" y2="843.0" stroke="#3d3d3d" stroke-width="1.1" stroke-linecap="butt"/>
<line x1="1188.9" y1="839.0" x2="1188.9" y2="843.0" stroke="#3d3d3d" stroke-width="1.1" stroke-linecap="butt"/>
<line x1="1191.1" y1="839.0" x2="1191.1" y2="843.0" stroke="#3d3d3d" stroke-width="1.1" stroke-linecap="butt"/>
<line x1="1193.0" y1="839.0" x2="1193.0" y2="847.0" stroke="#3d3d3d" stroke-width="1.8" stroke-linecap="butt"/>
<line x1="1205.6" y1="839.0" x2="1205.6" y2="843.0" stroke="#3d3d3d" stroke-width="1.1" stroke-linecap="butt"/>
<line x1="1213.0" y1="839.0" x2="1213.0" y2="843.0" stroke="#3d3d3d" stroke-width="1.1" stroke-linecap="butt"/>
<line x1="1218.3" y1="839.0" x2="1218.3" y2="843.0" stroke="#3d3d3d" stroke-width="1.1" stroke-linecap="butt"/>
<line x1="1222.4" y1="839.0" x2="1222.4" y2="843.0" stroke="#3d3d3d" stroke-width="1.1" stroke-linecap="butt"/>
<line x1="1225.7" y1="839.0" x2="1225.7" y2="843.0" stroke="#3d3d3d" stroke-width="1.1" stroke-linecap="butt"/>
<line x1="1228.5" y1="839.0" x2="1228.5" y2="843.0" stroke="#3d3d3d" stroke-width="1.1" stroke-linecap="butt"/>
<line x1="1230.9" y1="839.0" x2="1230.9" y2="843.0" stroke="#3d3d3d" stroke-width="1.1" stroke-linecap="butt"/>
<line x1="1233.1" y1="839.0" x2="1233.1" y2="843.0" stroke="#3d3d3d" stroke-width="1.1" stroke-linecap="butt"/>
<line x1="1235.0" y1="839.0" x2="1235.0" y2="847.0" stroke="#3d3d3d" stroke-width="1.8" stroke-linecap="butt"/>
<line x1="1247.6" y1="839.0" x2="1247.6" y2="843.0" stroke="#3d3d3d" stroke-width="1.1" stroke-linecap="butt"/>
<line x1="1255.0" y1="839.0" x2="1255.0" y2="843.0" stroke="#3d3d3d" stroke-width="1.1" stroke-linecap="butt"/>
<line x1="1260.3" y1="839.0" x2="1260.3" y2="843.0" stroke="#3d3d3d" stroke-width="1.1" stroke-linecap="butt"/>
<line x1="1264.4" y1="839.0" x2="1264.4" y2="843.0" stroke="#3d3d3d" stroke-width="1.1" stroke-linecap="butt"/>
<line x1="1267.7" y1="839.0" x2="1267.7" y2="843.0" stroke="#3d3d3d" stroke-width="1.1" stroke-linecap="butt"/>
<line x1="1270.5" y1="839.0" x2="1270.5" y2="843.0" stroke="#3d3d3d" stroke-width="1.1" stroke-linecap="butt"/>
<line x1="1272.9" y1="839.0" x2="1272.9" y2="843.0" stroke="#3d3d3d" stroke-width="1.1" stroke-linecap="butt"/>
<line x1="1275.1" y1="839.0" x2="1275.1" y2="843.0" stroke="#3d3d3d" stroke-width="1.1" stroke-linecap="butt"/>
<line x1="1277.0" y1="839.0" x2="1277.0" y2="847.0" stroke="#3d3d3d" stroke-width="1.8" stroke-linecap="butt"/>
<line x1="1289.5" y1="839.0" x2="1289.5" y2="843.0" stroke="#3d3d3d" stroke-width="1.1" stroke-linecap="butt"/>
<line x1="1296.8" y1="839.0" x2="1296.8" y2="843.0" stroke="#3d3d3d" stroke-width="1.1" stroke-linecap="butt"/>
<line x1="1302.0" y1="839.0" x2="1302.0" y2="843.0" stroke="#3d3d3d" stroke-width="1.1" stroke-linecap="butt"/>
<line x1="1306.1" y1="839.0" x2="1306.1" y2="843.0" stroke="#3d3d3d" stroke-width="1.1" stroke-linecap="butt"/>
<line x1="1309.4" y1="839.0" x2="1309.4" y2="843.0" stroke="#3d3d3d" stroke-width="1.1" stroke-linecap="butt"/>
<line x1="1312.2" y1="839.0" x2="1312.2" y2="843.0" stroke="#3d3d3d" stroke-width="1.1" stroke-linecap="butt"/>
<line x1="1314.6" y1="839.0" x2="1314.6" y2="843.0" stroke="#3d3d3d" stroke-width="1.1" stroke-linecap="butt"/>
<line x1="1316.7" y1="839.0" x2="1316.7" y2="843.0" stroke="#3d3d3d" stroke-width="1.1" stroke-linecap="butt"/>
<line x1="1318.6" y1="839.0" x2="1318.6" y2="847.0" stroke="#3d3d3d" stroke-width="1.8" stroke-linecap="butt"/>
<text x="1623" y="613.4" font-size="18" font-weight="bold" fill="#151515" textLength="133" lengthAdjust="spacingAndGlyphs">PBMC CD14<tspan dy="-7" font-size="13">+</tspan><tspan dy="7"> Cell</tspan></text>
<line x1="1576.8" y1="641.1" x2="1576.8" y2="832.9" stroke="#151515" stroke-width="2.4" stroke-linecap="butt"/>
<line x1="1575.6" y1="831.7" x2="1804.9" y2="831.7" stroke="#151515" stroke-width="2.4" stroke-linecap="butt"/>
<line x1="1571.0" y1="642.3" x2="1576.8" y2="642.3" stroke="#151515" stroke-width="2.4" stroke-linecap="butt"/>
<text x="1541.7" y="648.1" font-size="16" font-weight="bold" textLength="28.8" lengthAdjust="spacingAndGlyphs" fill="#151515"  stroke="#151515" stroke-width="0.35">15.0</text>
<line x1="1571.0" y1="680.4" x2="1576.8" y2="680.4" stroke="#151515" stroke-width="2.4" stroke-linecap="butt"/>
<text x="1541.7" y="686.2" font-size="16" font-weight="bold" textLength="28.8" lengthAdjust="spacingAndGlyphs" fill="#151515"  stroke="#151515" stroke-width="0.35">14.5</text>
<line x1="1571.0" y1="718.0" x2="1576.8" y2="718.0" stroke="#151515" stroke-width="2.4" stroke-linecap="butt"/>
<text x="1541.7" y="723.8" font-size="16" font-weight="bold" textLength="28.8" lengthAdjust="spacingAndGlyphs" fill="#151515"  stroke="#151515" stroke-width="0.35">14.0</text>
<line x1="1571.0" y1="756.0" x2="1576.8" y2="756.0" stroke="#151515" stroke-width="2.4" stroke-linecap="butt"/>
<text x="1541.7" y="761.8" font-size="16" font-weight="bold" textLength="28.8" lengthAdjust="spacingAndGlyphs" fill="#151515"  stroke="#151515" stroke-width="0.35">13.5</text>
<line x1="1571.0" y1="793.5" x2="1576.8" y2="793.5" stroke="#151515" stroke-width="2.4" stroke-linecap="butt"/>
<text x="1541.7" y="799.3" font-size="16" font-weight="bold" textLength="28.8" lengthAdjust="spacingAndGlyphs" fill="#151515"  stroke="#151515" stroke-width="0.35">13.0</text>
<line x1="1571.0" y1="831.7" x2="1576.8" y2="831.7" stroke="#151515" stroke-width="2.4" stroke-linecap="butt"/>
<text x="1541.7" y="837.5" font-size="16" font-weight="bold" textLength="28.8" lengthAdjust="spacingAndGlyphs" fill="#151515"  stroke="#151515" stroke-width="0.35">12.5</text>
<line x1="1576.8" y1="831.7" x2="1576.8" y2="838.5" stroke="#151515" stroke-width="2.4" stroke-linecap="butt"/>
<text x="1563.8" y="855.4" font-size="16" font-weight="bold" textLength="26.0" lengthAdjust="spacingAndGlyphs" fill="#151515"  stroke="#151515" stroke-width="0.35">12.5</text>
<line x1="1621.9" y1="831.7" x2="1621.9" y2="838.5" stroke="#151515" stroke-width="2.4" stroke-linecap="butt"/>
<text x="1608.9" y="855.4" font-size="16" font-weight="bold" textLength="26.0" lengthAdjust="spacingAndGlyphs" fill="#151515"  stroke="#151515" stroke-width="0.35">13.0</text>
<line x1="1667.0" y1="831.7" x2="1667.0" y2="838.5" stroke="#151515" stroke-width="2.4" stroke-linecap="butt"/>
<text x="1654.0" y="855.4" font-size="16" font-weight="bold" textLength="26.0" lengthAdjust="spacingAndGlyphs" fill="#151515"  stroke="#151515" stroke-width="0.35">13.5</text>
<line x1="1712.6" y1="831.7" x2="1712.6" y2="838.5" stroke="#151515" stroke-width="2.4" stroke-linecap="butt"/>
<text x="1699.6" y="855.4" font-size="16" font-weight="bold" textLength="26.0" lengthAdjust="spacingAndGlyphs" fill="#151515"  stroke="#151515" stroke-width="0.35">14.0</text>
<line x1="1758.0" y1="831.7" x2="1758.0" y2="838.5" stroke="#151515" stroke-width="2.4" stroke-linecap="butt"/>
<text x="1745.0" y="855.4" font-size="16" font-weight="bold" textLength="26.0" lengthAdjust="spacingAndGlyphs" fill="#151515"  stroke="#151515" stroke-width="0.35">14.5</text>
<line x1="1803.7" y1="831.7" x2="1803.7" y2="838.5" stroke="#151515" stroke-width="2.4" stroke-linecap="butt"/>
<text x="1790.7" y="855.4" font-size="16" font-weight="bold" textLength="26.0" lengthAdjust="spacingAndGlyphs" fill="#151515"  stroke="#151515" stroke-width="0.35">15.0</text>
<text x="1650.0" y="885.0" font-size="19" font-weight="bold" textLength="80.8" lengthAdjust="spacingAndGlyphs" fill="#151515"  stroke="#151515" stroke-width="0.35">Tim-3 log2</text>
<text transform="translate(1533.5,808.3) rotate(-90)" font-size="17.5" font-weight="bold" textLength="147.8" lengthAdjust="spacingAndGlyphs" fill="#151515">HLA-DRB3 log2</text>
<text x="1763.5" y="650.9" font-size="17" font-weight="bold" textLength="71.5" lengthAdjust="spacingAndGlyphs" fill="#151515"  stroke="#151515" stroke-width="0.35">r = -0.2458</text>
<text x="1763.5" y="672.5" font-size="17" font-weight="bold" textLength="68.5" lengthAdjust="spacingAndGlyphs" fill="#151515"  stroke="#151515" stroke-width="0.35">p = 0.0450</text>
<text x="1763.5" y="692.0" font-size="17" font-weight="bold" textLength="39.5" lengthAdjust="spacingAndGlyphs" fill="#151515"  stroke="#151515" stroke-width="0.35">n = 67</text>
<line x1="1615.7" y1="716.2" x2="1764.2" y2="738.5" stroke="#151515" stroke-width="2.2" stroke-linecap="butt"/>
<circle cx="1614.6" cy="723.1" r="3.6" fill="#0a0a0a"/>
<circle cx="1628.7" cy="720.7" r="3.6" fill="#0a0a0a"/>
<circle cx="1630.1" cy="713.8" r="3.6" fill="#0a0a0a"/>
<circle cx="1632.9" cy="722.4" r="3.6" fill="#0a0a0a"/>
<circle cx="1636.3" cy="724.8" r="3.6" fill="#0a0a0a"/>
<circle cx="1634.9" cy="701.1" r="3.6" fill="#0a0a0a"/>
<circle cx="1637.7" cy="709.6" r="3.6" fill="#0a0a0a"/>
<circle cx="1643.9" cy="745.4" r="3.6" fill="#0a0a0a"/>
<circle cx="1648.0" cy="694.2" r="3.6" fill="#0a0a0a"/>
<circle cx="1648.7" cy="741.3" r="3.6" fill="#0a0a0a"/>
<circle cx="1651.4" cy="747.5" r="3.6" fill="#0a0a0a"/>
<circle cx="1652.8" cy="701.7" r="3.6" fill="#0a0a0a"/>
<circle cx="1653.5" cy="728.2" r="3.6" fill="#0a0a0a"/>
<circle cx="1654.2" cy="734.4" r="3.6" fill="#0a0a0a"/>
<circle cx="1656.9" cy="729.2" r="3.6" fill="#0a0a0a"/>
<circle cx="1659.7" cy="705.2" r="3.6" fill="#0a0a0a"/>
<circle cx="1661.0" cy="731.7" r="3.6" fill="#0a0a0a"/>
<circle cx="1663.1" cy="715.5" r="3.6" fill="#0a0a0a"/>
<circle cx="1664.5" cy="753.3" r="3.6" fill="#0a0a0a"/>
<circle cx="1666.5" cy="748.2" r="3.6" fill="#0a0a0a"/>
<circle cx="1667.2" cy="727.5" r="3.6" fill="#0a0a0a"/>
<circle cx="1670.7" cy="730.3" r="3.6" fill="#0a0a0a"/>
<circle cx="1672.4" cy="720.0" r="3.6" fill="#0a0a0a"/>
<circle cx="1674.1" cy="700.7" r="3.6" fill="#0a0a0a"/>
<circle cx="1674.8" cy="706.9" r="3.6" fill="#0a0a0a"/>
<circle cx="1675.5" cy="749.9" r="3.6" fill="#0a0a0a"/>
<circle cx="1676.2" cy="722.4" r="3.6" fill="#0a0a0a"/>
<circle cx="1677.6" cy="715.5" r="3.6" fill="#0a0a0a"/>
<circle cx="1679.6" cy="693.1" r="3.6" fill="#0a0a0a"/>
<circle cx="1680.3" cy="743.7" r="3.6" fill="#0a0a0a"/>
<circle cx="1681.7" cy="729.2" r="3.6" fill="#0a0a0a"/>
<circle cx="1683.1" cy="747.5" r="3.6" fill="#0a0a0a"/>
<circle cx="1683.7" cy="726.8" r="3.6" fill="#0a0a0a"/>
<circle cx="1684.4" cy="706.2" r="3.6" fill="#0a0a0a"/>
<circle cx="1685.1" cy="751.6" r="3.6" fill="#0a0a0a"/>
<circle cx="1690.6" cy="720.7" r="3.6" fill="#0a0a0a"/>
<circle cx="1692.7" cy="724.8" r="3.6" fill="#0a0a0a"/>
<circle cx="1694.7" cy="702.4" r="3.6" fill="#0a0a0a"/>
<circle cx="1697.1" cy="736.1" r="3.6" fill="#0a0a0a"/>
<circle cx="1698.2" cy="712.1" r="3.6" fill="#0a0a0a"/>
<circle cx="1700.2" cy="723.4" r="3.6" fill="#0a0a0a"/>
<circle cx="1705.1" cy="742.0" r="3.6" fill="#0a0a0a"/>
<circle cx="1707.1" cy="744.7" r="3.6" fill="#0a0a0a"/>
<circle cx="1706.4" cy="706.2" r="3.6" fill="#0a0a0a"/>
<circle cx="1710.6" cy="696.6" r="3.6" fill="#0a0a0a"/>
<circle cx="1714.7" cy="728.2" r="3.6" fill="#0a0a0a"/>
<circle cx="1718.1" cy="717.2" r="3.6" fill="#0a0a0a"/>
<circle cx="1725.0" cy="720.7" r="3.6" fill="#0a0a0a"/>
<circle cx="1727.1" cy="725.1" r="3.6" fill="#0a0a0a"/>
<circle cx="1732.6" cy="731.7" r="3.6" fill="#0a0a0a"/>
<circle cx="1739.4" cy="734.4" r="3.6" fill="#0a0a0a"/>
<circle cx="1742.9" cy="701.7" r="3.6" fill="#0a0a0a"/>
<circle cx="1760.8" cy="741.3" r="3.6" fill="#0a0a0a"/>
<circle cx="1728.4" cy="777.0" r="3.6" fill="#0a0a0a"/>
<circle cx="1765.2" cy="800.4" r="3.6" fill="#0a0a0a"/>
<circle cx="1676.6" cy="703.9" r="3.6" fill="#0a0a0a"/>
<circle cx="1685.6" cy="707.3" r="3.6" fill="#0a0a0a"/>
<circle cx="1629.4" cy="713.6" r="3.6" fill="#0a0a0a"/>
<circle cx="1634.1" cy="722.5" r="3.6" fill="#0a0a0a"/>
<circle cx="1656.3" cy="734.7" r="3.6" fill="#0a0a0a"/>
<circle cx="1661.7" cy="732.4" r="3.6" fill="#0a0a0a"/>
<circle cx="1673.0" cy="718.1" r="3.6" fill="#0a0a0a"/>
<circle cx="1684.7" cy="724.3" r="3.6" fill="#0a0a0a"/>
<circle cx="1692.2" cy="726.1" r="3.6" fill="#0a0a0a"/>
<circle cx="1679.6" cy="744.1" r="3.6" fill="#0a0a0a"/>
<circle cx="1668.0" cy="748.5" r="3.6" fill="#0a0a0a"/>
<circle cx="1724.5" cy="719.9" r="3.6" fill="#0a0a0a"/>
</g>
</svg>
</body></html>
